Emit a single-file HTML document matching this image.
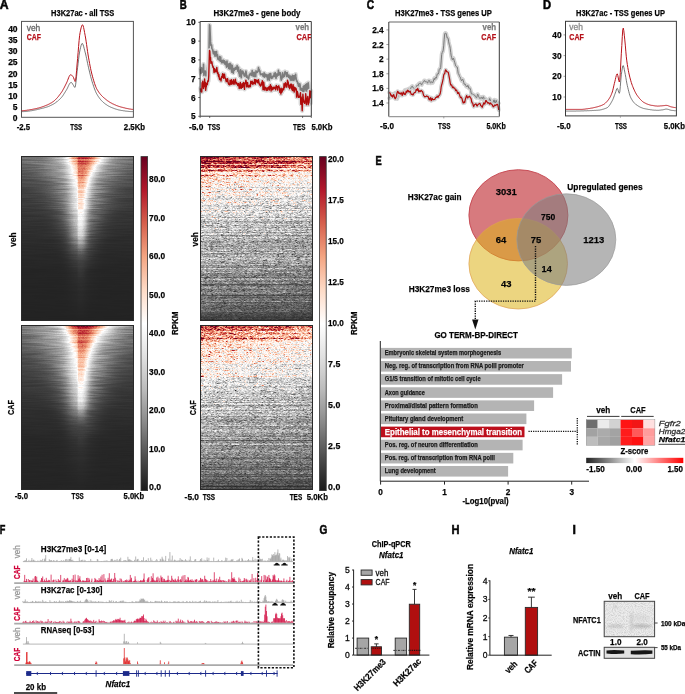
<!DOCTYPE html>
<html><head><meta charset="utf-8"><title>figure</title>
<style>
html,body{margin:0;padding:0;background:#fff;}
#wrap{position:relative;width:685px;height:694px;overflow:hidden;background:#fff;}
#wrap svg{position:absolute;left:0;top:0;}
#wrap canvas{position:absolute;}
#hB1,#hB2{background:linear-gradient(#a01a2a,#e8c8c0 12%,#d8d8d8 25%,#a8a8a8 60%,#808080 90%,#333);}
text{font-family:"Liberation Sans",sans-serif;}
</style></head><body><div id="wrap">
<svg width="685" height="694" style="position:absolute;left:0;top:0"><defs><filter id="fb6" x="-50%" y="-50%" width="200%" height="200%"><feGaussianBlur stdDeviation="7"/></filter><filter id="fb2" x="-50%" y="-50%" width="200%" height="200%"><feGaussianBlur stdDeviation="2.2"/></filter><clipPath id="fbc1"><rect x="21" y="156" width="113" height="165"/></clipPath><clipPath id="fbc2"><rect x="21" y="325" width="113" height="165"/></clipPath></defs><g clip-path="url(#fbc1)"><rect x="21" y="156" width="113" height="165" fill="#262626"/><polygon points="35,156 125,156 84,251" fill="#9a9a9a" filter="url(#fb6)"/><polygon points="64,156 102,156 81,244" fill="#ffffff" filter="url(#fb2)"/><polygon points="77,156 97,156 81,214" fill="#e58a72" filter="url(#fb2)"/></g><g clip-path="url(#fbc2)"><rect x="21" y="325" width="113" height="165" fill="#262626"/><polygon points="35,325 125,325 84,420" fill="#9a9a9a" filter="url(#fb6)"/><polygon points="64,325 102,325 81,413" fill="#ffffff" filter="url(#fb2)"/><polygon points="77,325 97,325 81,383" fill="#e58a72" filter="url(#fb2)"/></g></svg>
<canvas id="hA1" width="113" height="165" style="left:21px;top:156px;width:113px;height:165px"></canvas>
<canvas id="hA2" width="113" height="165" style="left:21px;top:325px;width:113px;height:165px"></canvas>
<canvas id="hB1" width="113" height="165" style="left:200px;top:156px;width:113px;height:165px"></canvas>
<canvas id="hB2" width="113" height="165" style="left:200px;top:325px;width:113px;height:165px"></canvas>
<svg width="685" height="694" viewBox="0 0 685 694" font-family="Liberation Sans, sans-serif">
<text x="-0.30" y="8.80" font-size="12.5" font-weight="bold" stroke="#111" stroke-width="0.25" textLength="8.80" lengthAdjust="spacingAndGlyphs" style="stroke-width:0.6">A</text>
<text x="51.10" y="15.60" font-size="8.82" font-weight="bold" stroke="#111" stroke-width="0.25" textLength="63.20" lengthAdjust="spacingAndGlyphs" >H3K27ac - all TSS</text>
<rect x="21.50" y="21.40" width="111.90" height="95.90" fill="none" stroke="#555" stroke-width="1" />
<text x="17.60" y="121.30" font-size="8.5" font-weight="bold" stroke="#111" stroke-width="0.25" text-anchor="end" >0</text>
<text x="17.60" y="110.11" font-size="8.5" font-weight="bold" stroke="#111" stroke-width="0.25" text-anchor="end" >5</text>
<text x="17.60" y="98.93" font-size="8.5" font-weight="bold" stroke="#111" stroke-width="0.25" text-anchor="end" >10</text>
<text x="17.60" y="87.75" font-size="8.5" font-weight="bold" stroke="#111" stroke-width="0.25" text-anchor="end" >15</text>
<text x="17.60" y="76.56" font-size="8.5" font-weight="bold" stroke="#111" stroke-width="0.25" text-anchor="end" >20</text>
<text x="17.60" y="65.38" font-size="8.5" font-weight="bold" stroke="#111" stroke-width="0.25" text-anchor="end" >25</text>
<text x="17.60" y="54.19" font-size="8.5" font-weight="bold" stroke="#111" stroke-width="0.25" text-anchor="end" >30</text>
<text x="17.60" y="43.00" font-size="8.5" font-weight="bold" stroke="#111" stroke-width="0.25" text-anchor="end" >35</text>
<text x="17.60" y="31.82" font-size="8.5" font-weight="bold" stroke="#111" stroke-width="0.25" text-anchor="end" >40</text>
<text x="16.70" y="129.50" font-size="8.58" font-weight="bold" stroke="#111" stroke-width="0.25" textLength="13.40" lengthAdjust="spacingAndGlyphs" >-2.5</text>
<text x="70.30" y="129.50" font-size="8.58" font-weight="bold" stroke="#111" stroke-width="0.25" textLength="11.80" lengthAdjust="spacingAndGlyphs" >TSS</text>
<text x="123.80" y="129.50" font-size="8.58" font-weight="bold" stroke="#111" stroke-width="0.25" textLength="21.30" lengthAdjust="spacingAndGlyphs" >2.5Kb</text>
<text x="26.70" y="31.00" font-size="8.82" stroke="#666" stroke-width="0.3" fill="#666" textLength="13.60" lengthAdjust="spacingAndGlyphs" >veh</text>
<text x="26.70" y="39.70" font-size="8.58" font-weight="bold" stroke="#b5121b" stroke-width="0.25" fill="#b5121b" textLength="14.20" lengthAdjust="spacingAndGlyphs" >CAF</text>
<path d="M21.6,111.6 22.1,111.6 22.6,111.6 23.1,111.6 23.6,111.6 24.1,111.6 24.6,111.5 25.1,111.5 25.6,111.5 26.1,111.4 26.6,111.4 27.1,111.3 27.6,111.3 28.1,111.2 28.6,111.1 29.1,111.1 29.6,111.0 30.1,110.9 30.6,110.8 31.1,110.8 31.6,110.7 32.1,110.6 32.6,110.5 33.1,110.4 33.6,110.3 34.1,110.2 34.6,110.1 35.1,110.0 35.6,109.9 36.1,109.8 36.6,109.7 37.1,109.5 37.6,109.4 38.1,109.3 38.6,109.2 39.1,109.1 39.6,109.0 40.1,108.8 40.6,108.7 41.1,108.6 41.6,108.5 42.1,108.3 42.6,108.2 43.1,108.1 43.6,108.0 44.1,107.8 44.6,107.7 45.1,107.6 45.6,107.4 46.1,107.3 46.6,107.1 47.1,106.9 47.6,106.8 48.1,106.6 48.6,106.4 49.1,106.2 49.6,106.0 50.1,105.7 50.6,105.5 51.1,105.3 51.6,105.0 52.1,104.8 52.6,104.5 53.1,104.2 53.6,104.0 54.1,103.7 54.6,103.4 55.1,103.0 55.6,102.7 56.1,102.3 56.6,101.9 57.1,101.6 57.6,101.1 58.1,100.7 58.6,100.3 59.1,99.8 59.6,99.4 60.1,98.9 60.6,98.4 61.1,97.8 61.6,97.3 62.1,96.7 62.6,96.0 63.1,95.3 63.6,94.5 64.1,93.7 64.6,92.9 65.1,92.1 65.6,91.3 66.1,90.5 66.6,89.7 67.1,88.8 67.6,87.8 68.1,86.7 68.6,85.6 69.1,84.6 69.6,83.7 70.1,83.0 70.6,82.6 71.1,82.4 71.6,82.6 72.1,83.2 72.6,84.0 73.1,84.8 73.6,85.6 74.1,86.6 74.6,87.3 75.1,87.2 75.6,84.9 76.1,80.9 76.6,76.2 77.1,71.5 77.6,67.5 78.1,63.5 78.6,59.3 79.1,55.4 79.6,52.0 80.1,49.6 80.6,47.4 81.1,45.5 81.6,44.1 82.1,43.4 82.6,43.7 83.1,44.8 83.6,46.3 84.1,48.2 84.6,50.2 85.1,52.1 85.6,54.0 86.1,56.2 86.6,58.5 87.1,60.9 87.6,63.3 88.1,65.7 88.6,67.8 89.1,70.0 89.6,72.1 90.1,74.2 90.6,76.2 91.1,78.1 91.6,79.9 92.1,81.6 92.6,83.2 93.1,84.7 93.6,86.2 94.1,87.7 94.6,89.0 95.1,90.3 95.6,91.6 96.1,92.7 96.6,93.7 97.1,94.5 97.6,95.4 98.1,96.2 98.6,96.9 99.1,97.6 99.6,98.3 100.1,99.0 100.6,99.6 101.1,100.2 101.6,100.7 102.1,101.2 102.6,101.7 103.1,102.2 103.6,102.6 104.1,103.0 104.6,103.4 105.1,103.8 105.6,104.2 106.1,104.5 106.6,104.8 107.1,105.2 107.6,105.5 108.1,105.8 108.6,106.1 109.1,106.3 109.6,106.6 110.1,106.8 110.6,107.1 111.1,107.3 111.6,107.5 112.1,107.7 112.6,107.9 113.1,108.1 113.6,108.3 114.1,108.5 114.6,108.7 115.1,108.9 115.6,109.0 116.1,109.2 116.6,109.3 117.1,109.5 117.6,109.6 118.1,109.8 118.6,109.9 119.1,110.0 119.6,110.1 120.1,110.2 120.6,110.3 121.1,110.4 121.6,110.5 122.1,110.5 122.6,110.6 123.1,110.7 123.6,110.8 124.1,110.8 124.6,110.9 125.1,111.0 125.6,111.1 126.1,111.1 126.6,111.2 127.1,111.2 127.6,111.3 128.1,111.4 128.6,111.4 129.1,111.5 129.6,111.5 130.1,111.5 130.6,111.6 131.1,111.6 131.6,111.6 132.1,111.6 132.6,111.6 133.1,111.6" stroke="#555" stroke-width="0.8" fill="none" stroke-linejoin="round" />
<path d="M21.6,110.8 22.1,110.8 22.6,110.7 23.1,110.7 23.6,110.6 24.1,110.6 24.6,110.5 25.1,110.5 25.6,110.4 26.1,110.4 26.6,110.3 27.1,110.2 27.6,110.1 28.1,110.1 28.6,110.0 29.1,109.9 29.6,109.8 30.1,109.7 30.6,109.6 31.1,109.6 31.6,109.5 32.1,109.4 32.6,109.3 33.1,109.2 33.6,109.1 34.1,109.0 34.6,108.9 35.1,108.8 35.6,108.7 36.1,108.6 36.6,108.5 37.1,108.3 37.6,108.2 38.1,108.1 38.6,108.0 39.1,107.8 39.6,107.7 40.1,107.5 40.6,107.4 41.1,107.2 41.6,107.1 42.1,106.9 42.6,106.7 43.1,106.5 43.6,106.4 44.1,106.2 44.6,106.0 45.1,105.8 45.6,105.6 46.1,105.4 46.6,105.2 47.1,105.0 47.6,104.8 48.1,104.5 48.6,104.3 49.1,104.0 49.6,103.8 50.1,103.5 50.6,103.2 51.1,103.0 51.6,102.7 52.1,102.3 52.6,102.0 53.1,101.7 53.6,101.3 54.1,100.9 54.6,100.5 55.1,100.0 55.6,99.5 56.1,99.0 56.6,98.5 57.1,97.9 57.6,97.4 58.1,96.8 58.6,96.2 59.1,95.5 59.6,94.9 60.1,94.2 60.6,93.5 61.1,92.8 61.6,92.1 62.1,91.4 62.6,90.5 63.1,89.6 63.6,88.7 64.1,87.8 64.6,86.8 65.1,85.8 65.6,84.8 66.1,83.8 66.6,82.8 67.1,81.7 67.6,80.4 68.1,79.1 68.6,77.8 69.1,76.6 69.6,75.7 70.1,75.0 70.6,74.7 71.1,74.8 71.6,75.1 72.1,75.6 72.6,76.2 73.1,76.8 73.6,77.7 74.1,79.2 74.6,80.6 75.1,81.5 75.6,80.4 76.1,76.2 76.6,70.3 77.1,64.0 77.6,58.5 78.1,52.6 78.6,46.4 79.1,40.5 79.6,35.7 80.1,32.6 80.6,30.1 81.1,27.9 81.6,26.2 82.1,25.1 82.6,24.8 83.1,25.7 83.6,27.5 84.1,29.9 84.6,32.6 85.1,35.2 85.6,38.0 86.1,41.2 86.6,44.6 87.1,48.2 87.6,51.7 88.1,55.0 88.6,57.9 89.1,60.7 89.6,63.4 90.1,66.1 90.6,68.6 91.1,70.9 91.6,73.0 92.1,74.9 92.6,76.8 93.1,78.6 93.6,80.3 94.1,82.0 94.6,83.5 95.1,85.0 95.6,86.3 96.1,87.5 96.6,88.6 97.1,89.5 97.6,90.3 98.1,91.1 98.6,91.9 99.1,92.6 99.6,93.3 100.1,93.9 100.6,94.5 101.1,95.0 101.6,95.6 102.1,96.1 102.6,96.6 103.1,97.1 103.6,97.5 104.1,98.0 104.6,98.4 105.1,98.8 105.6,99.2 106.1,99.6 106.6,100.0 107.1,100.4 107.6,100.8 108.1,101.1 108.6,101.4 109.1,101.8 109.6,102.1 110.1,102.4 110.6,102.7 111.1,103.0 111.6,103.2 112.1,103.5 112.6,103.8 113.1,104.0 113.6,104.2 114.1,104.5 114.6,104.7 115.1,104.9 115.6,105.1 116.1,105.4 116.6,105.6 117.1,105.8 117.6,105.9 118.1,106.1 118.6,106.3 119.1,106.5 119.6,106.6 120.1,106.8 120.6,106.9 121.1,107.0 121.6,107.2 122.1,107.3 122.6,107.4 123.1,107.6 123.6,107.7 124.1,107.8 124.6,107.9 125.1,108.1 125.6,108.2 126.1,108.3 126.6,108.4 127.1,108.5 127.6,108.6 128.1,108.7 128.6,108.8 129.1,108.9 129.6,109.0 130.1,109.1 130.6,109.1 131.1,109.2 131.6,109.3 132.1,109.3 132.6,109.4 133.1,109.4" stroke="#b8141c" stroke-width="1.0" fill="none" stroke-linejoin="round" />
<text x="179.80" y="8.80" font-size="12.5" font-weight="bold" stroke="#111" stroke-width="0.25" textLength="7.00" lengthAdjust="spacingAndGlyphs" style="stroke-width:0.6">B</text>
<text x="213.40" y="15.90" font-size="9.16" font-weight="bold" stroke="#111" stroke-width="0.25" textLength="87.10" lengthAdjust="spacingAndGlyphs" >H3K27me3 - gene body</text>
<text x="195.60" y="119.30" font-size="8.3" font-weight="bold" stroke="#111" stroke-width="0.25" text-anchor="end" >5</text>
<line x1="198.30" y1="116.30" x2="200.10" y2="116.30" stroke="#3a3a3a" stroke-width="0.8" />
<text x="195.60" y="100.50" font-size="8.3" font-weight="bold" stroke="#111" stroke-width="0.25" text-anchor="end" >6</text>
<line x1="198.30" y1="97.50" x2="200.10" y2="97.50" stroke="#3a3a3a" stroke-width="0.8" />
<text x="195.60" y="81.70" font-size="8.3" font-weight="bold" stroke="#111" stroke-width="0.25" text-anchor="end" >7</text>
<line x1="198.30" y1="78.70" x2="200.10" y2="78.70" stroke="#3a3a3a" stroke-width="0.8" />
<text x="195.60" y="62.90" font-size="8.3" font-weight="bold" stroke="#111" stroke-width="0.25" text-anchor="end" >8</text>
<line x1="198.30" y1="59.90" x2="200.10" y2="59.90" stroke="#3a3a3a" stroke-width="0.8" />
<text x="195.60" y="44.10" font-size="8.3" font-weight="bold" stroke="#111" stroke-width="0.25" text-anchor="end" >9</text>
<line x1="198.30" y1="41.10" x2="200.10" y2="41.10" stroke="#3a3a3a" stroke-width="0.8" />
<text x="195.60" y="25.30" font-size="8.3" font-weight="bold" stroke="#111" stroke-width="0.25" text-anchor="end" >10</text>
<line x1="198.30" y1="22.30" x2="200.10" y2="22.30" stroke="#3a3a3a" stroke-width="0.8" />
<path d="M200.4,68.9 200.8,73.5 201.1,73.3 201.4,67.7 201.8,68.5 202.1,68.1 202.5,71.9 202.8,70.1 203.2,72.4 203.5,64.3 203.9,75.5 204.2,70.8 204.6,73.5 204.9,71.4 205.3,71.1 205.6,74.4 206.0,75.9 206.3,72.6 206.7,72.7 207.0,75.0 207.4,69.3 207.7,66.5 208.1,72.0 208.4,66.9 208.8,57.8 209.1,46.3 209.5,24.9 209.8,25.8 210.2,34.0 210.5,41.4 210.9,45.4 211.2,44.8 211.6,45.0 211.9,48.4 212.3,50.2 212.6,49.3 213.0,51.9 213.3,53.7 213.7,52.0 214.0,51.4 214.4,54.2 214.7,54.5 215.1,56.3 215.4,51.9 215.8,53.1 216.1,52.9 216.5,51.5 216.8,55.5 217.2,56.7 217.5,54.7 217.9,59.3 218.2,58.8 218.6,58.9 218.9,59.0 219.3,60.4 219.6,56.6 220.0,60.7 220.3,61.1 220.7,57.0 221.0,61.3 221.4,60.7 221.7,62.8 222.1,60.7 222.4,61.5 222.8,62.3 223.1,60.0 223.5,62.8 223.8,61.6 224.2,62.6 224.5,60.9 224.9,64.1 225.2,63.4 225.6,62.1 225.9,64.0 226.3,65.8 226.6,67.1 227.0,61.1 227.3,66.2 227.7,66.1 228.0,65.3 228.4,64.0 228.7,68.5 229.1,64.0 229.4,67.6 229.8,69.0 230.1,63.4 230.5,65.8 230.8,64.3 231.2,67.7 231.5,70.9 231.9,72.2 232.2,65.2 232.6,67.9 232.9,71.1 233.3,73.1 233.6,70.9 234.0,68.5 234.3,70.3 234.7,69.5 235.0,68.8 235.4,67.4 235.7,69.3 236.1,69.0 236.4,68.0 236.8,67.6 237.1,65.6 237.5,67.5 237.8,71.3 238.2,69.1 238.5,67.3 238.9,73.3 239.2,72.7 239.6,76.1 239.9,72.4 240.3,71.4 240.6,69.7 241.0,75.4 241.3,77.8 241.7,71.2 242.0,71.3 242.4,73.7 242.7,71.0 243.1,72.1 243.4,72.2 243.8,73.6 244.1,75.7 244.5,74.1 244.8,76.1 245.2,74.0 245.5,75.6 245.9,71.1 246.2,72.8 246.6,77.5 246.9,75.3 247.3,77.7 247.6,77.9 248.0,79.4 248.3,78.5 248.7,78.6 249.0,76.2 249.4,74.7 249.7,74.4 250.1,74.6 250.4,73.2 250.8,74.1 251.1,74.9 251.5,75.4 251.8,73.9 252.2,70.6 252.5,74.0 252.9,74.7 253.2,76.3 253.6,75.1 253.9,72.5 254.3,72.3 254.6,77.5 255.0,75.0 255.3,76.8 255.7,76.9 256.0,70.8 256.4,72.6 256.7,72.5 257.1,72.4 257.4,72.1 257.8,71.2 258.1,70.9 258.5,67.6 258.8,70.3 259.2,69.5 259.5,71.6 259.9,71.0 260.2,73.6 260.6,74.6 260.9,74.1 261.3,74.5 261.6,74.5 262.0,73.8 262.3,74.6 262.7,74.2 263.0,76.1 263.4,75.6 263.7,76.5 264.1,72.9 264.4,77.1 264.8,74.0 265.1,74.0 265.5,75.3 265.8,74.9 266.2,76.8 266.5,75.4 266.9,74.7 267.2,75.5 267.6,79.9 267.9,77.5 268.3,75.1 268.6,77.1 269.0,74.2 269.3,80.3 269.7,73.9 270.0,77.5 270.4,77.5 270.7,73.6 271.1,77.0 271.4,78.4 271.8,77.4 272.1,76.9 272.5,78.0 272.8,76.3 273.2,76.4 273.5,75.3 273.9,76.5 274.2,73.4 274.6,76.5 274.9,74.0 275.3,72.8 275.6,75.7 276.0,78.4 276.3,76.9 276.7,74.0 277.0,76.3 277.4,74.1 277.7,74.7 278.1,75.0 278.4,70.4 278.8,75.2 279.1,73.2 279.5,73.9 279.8,72.6 280.2,72.8 280.5,74.4 280.9,78.4 281.2,80.2 281.6,77.1 281.9,79.0 282.3,76.2 282.6,72.8 283.0,76.6 283.3,77.1 283.7,75.2 284.0,76.3 284.4,76.5 284.7,73.2 285.1,71.6 285.4,73.6 285.8,73.3 286.1,72.8 286.5,75.2 286.8,76.5 287.2,72.5 287.5,74.9 287.9,75.9 288.2,76.0 288.6,77.2 288.9,75.1 289.3,77.9 289.6,80.8 290.0,78.7 290.3,76.0 290.7,78.4 291.0,79.9 291.4,78.1 291.7,76.5 292.1,80.5 292.4,75.4 292.8,78.8 293.1,77.9 293.5,75.8 293.8,80.5 294.2,78.7 294.5,75.7 294.9,79.0 295.2,76.9 295.6,74.2 295.9,76.9 296.3,79.5 296.6,81.0 297.0,80.9 297.3,81.6 297.7,83.2 298.0,82.8 298.4,86.2 298.7,84.9 299.1,85.6 299.4,86.4 299.8,83.7 300.1,85.1 300.5,93.1 300.8,89.9 301.2,88.3 301.5,90.8 301.9,88.8 302.2,91.6 302.6,89.1 302.9,92.1 303.3,86.6 303.6,95.9 304.0,89.6 304.3,85.5 304.7,89.4 305.0,88.5 305.4,89.3 305.7,84.6 306.1,89.6 306.4,99.8 306.8,83.8 307.1,88.6 307.5,87.0 307.8,88.9 308.2,82.8 308.5,85.7 308.9,91.8 309.2,91.3 309.6,97.2 309.9,90.2 310.3,93.9 310.6,103.3 311.0,91.7" stroke="#d9d9d9" stroke-width="4.4" fill="none" stroke-linejoin="round" stroke-linecap="round"/>
<path d="M200.4,68.9 200.8,73.5 201.1,73.3 201.4,67.7 201.8,68.5 202.1,68.1 202.5,71.9 202.8,70.1 203.2,72.4 203.5,64.3 203.9,75.5 204.2,70.8 204.6,73.5 204.9,71.4 205.3,71.1 205.6,74.4 206.0,75.9 206.3,72.6 206.7,72.7 207.0,75.0 207.4,69.3 207.7,66.5 208.1,72.0 208.4,66.9 208.8,57.8 209.1,46.3 209.5,24.9 209.8,25.8 210.2,34.0 210.5,41.4 210.9,45.4 211.2,44.8 211.6,45.0 211.9,48.4 212.3,50.2 212.6,49.3 213.0,51.9 213.3,53.7 213.7,52.0 214.0,51.4 214.4,54.2 214.7,54.5 215.1,56.3 215.4,51.9 215.8,53.1 216.1,52.9 216.5,51.5 216.8,55.5 217.2,56.7 217.5,54.7 217.9,59.3 218.2,58.8 218.6,58.9 218.9,59.0 219.3,60.4 219.6,56.6 220.0,60.7 220.3,61.1 220.7,57.0 221.0,61.3 221.4,60.7 221.7,62.8 222.1,60.7 222.4,61.5 222.8,62.3 223.1,60.0 223.5,62.8 223.8,61.6 224.2,62.6 224.5,60.9 224.9,64.1 225.2,63.4 225.6,62.1 225.9,64.0 226.3,65.8 226.6,67.1 227.0,61.1 227.3,66.2 227.7,66.1 228.0,65.3 228.4,64.0 228.7,68.5 229.1,64.0 229.4,67.6 229.8,69.0 230.1,63.4 230.5,65.8 230.8,64.3 231.2,67.7 231.5,70.9 231.9,72.2 232.2,65.2 232.6,67.9 232.9,71.1 233.3,73.1 233.6,70.9 234.0,68.5 234.3,70.3 234.7,69.5 235.0,68.8 235.4,67.4 235.7,69.3 236.1,69.0 236.4,68.0 236.8,67.6 237.1,65.6 237.5,67.5 237.8,71.3 238.2,69.1 238.5,67.3 238.9,73.3 239.2,72.7 239.6,76.1 239.9,72.4 240.3,71.4 240.6,69.7 241.0,75.4 241.3,77.8 241.7,71.2 242.0,71.3 242.4,73.7 242.7,71.0 243.1,72.1 243.4,72.2 243.8,73.6 244.1,75.7 244.5,74.1 244.8,76.1 245.2,74.0 245.5,75.6 245.9,71.1 246.2,72.8 246.6,77.5 246.9,75.3 247.3,77.7 247.6,77.9 248.0,79.4 248.3,78.5 248.7,78.6 249.0,76.2 249.4,74.7 249.7,74.4 250.1,74.6 250.4,73.2 250.8,74.1 251.1,74.9 251.5,75.4 251.8,73.9 252.2,70.6 252.5,74.0 252.9,74.7 253.2,76.3 253.6,75.1 253.9,72.5 254.3,72.3 254.6,77.5 255.0,75.0 255.3,76.8 255.7,76.9 256.0,70.8 256.4,72.6 256.7,72.5 257.1,72.4 257.4,72.1 257.8,71.2 258.1,70.9 258.5,67.6 258.8,70.3 259.2,69.5 259.5,71.6 259.9,71.0 260.2,73.6 260.6,74.6 260.9,74.1 261.3,74.5 261.6,74.5 262.0,73.8 262.3,74.6 262.7,74.2 263.0,76.1 263.4,75.6 263.7,76.5 264.1,72.9 264.4,77.1 264.8,74.0 265.1,74.0 265.5,75.3 265.8,74.9 266.2,76.8 266.5,75.4 266.9,74.7 267.2,75.5 267.6,79.9 267.9,77.5 268.3,75.1 268.6,77.1 269.0,74.2 269.3,80.3 269.7,73.9 270.0,77.5 270.4,77.5 270.7,73.6 271.1,77.0 271.4,78.4 271.8,77.4 272.1,76.9 272.5,78.0 272.8,76.3 273.2,76.4 273.5,75.3 273.9,76.5 274.2,73.4 274.6,76.5 274.9,74.0 275.3,72.8 275.6,75.7 276.0,78.4 276.3,76.9 276.7,74.0 277.0,76.3 277.4,74.1 277.7,74.7 278.1,75.0 278.4,70.4 278.8,75.2 279.1,73.2 279.5,73.9 279.8,72.6 280.2,72.8 280.5,74.4 280.9,78.4 281.2,80.2 281.6,77.1 281.9,79.0 282.3,76.2 282.6,72.8 283.0,76.6 283.3,77.1 283.7,75.2 284.0,76.3 284.4,76.5 284.7,73.2 285.1,71.6 285.4,73.6 285.8,73.3 286.1,72.8 286.5,75.2 286.8,76.5 287.2,72.5 287.5,74.9 287.9,75.9 288.2,76.0 288.6,77.2 288.9,75.1 289.3,77.9 289.6,80.8 290.0,78.7 290.3,76.0 290.7,78.4 291.0,79.9 291.4,78.1 291.7,76.5 292.1,80.5 292.4,75.4 292.8,78.8 293.1,77.9 293.5,75.8 293.8,80.5 294.2,78.7 294.5,75.7 294.9,79.0 295.2,76.9 295.6,74.2 295.9,76.9 296.3,79.5 296.6,81.0 297.0,80.9 297.3,81.6 297.7,83.2 298.0,82.8 298.4,86.2 298.7,84.9 299.1,85.6 299.4,86.4 299.8,83.7 300.1,85.1 300.5,93.1 300.8,89.9 301.2,88.3 301.5,90.8 301.9,88.8 302.2,91.6 302.6,89.1 302.9,92.1 303.3,86.6 303.6,95.9 304.0,89.6 304.3,85.5 304.7,89.4 305.0,88.5 305.4,89.3 305.7,84.6 306.1,89.6 306.4,99.8 306.8,83.8 307.1,88.6 307.5,87.0 307.8,88.9 308.2,82.8 308.5,85.7 308.9,91.8 309.2,91.3 309.6,97.2 309.9,90.2 310.3,93.9 310.6,103.3 311.0,91.7" stroke="#7c7c7c" stroke-width="1.6" fill="none" stroke-linejoin="round" />
<path d="M200.4,88.3 200.8,91.6 201.1,90.4 201.4,90.1 201.8,92.1 202.1,82.6 202.5,83.6 202.8,81.2 203.2,85.0 203.5,88.5 203.9,85.4 204.2,86.5 204.6,79.0 204.9,85.2 205.3,82.2 205.6,90.3 206.0,87.3 206.3,86.7 206.7,83.1 207.0,84.7 207.4,84.5 207.7,81.1 208.1,80.7 208.4,81.2 208.8,75.6 209.1,64.5 209.5,50.5 209.8,51.1 210.2,58.2 210.5,57.4 210.9,63.2 211.2,61.7 211.6,62.5 211.9,61.9 212.3,65.0 212.6,65.7 213.0,67.3 213.3,66.8 213.7,68.7 214.0,72.5 214.4,70.3 214.7,68.8 215.1,71.8 215.4,70.0 215.8,71.5 216.1,71.7 216.5,69.9 216.8,67.4 217.2,71.0 217.5,73.4 217.9,72.5 218.2,74.8 218.6,76.5 218.9,74.4 219.3,78.3 219.6,79.5 220.0,78.8 220.3,79.0 220.7,79.0 221.0,81.0 221.4,77.0 221.7,76.5 222.1,77.5 222.4,74.7 222.8,73.6 223.1,75.2 223.5,77.9 223.8,78.3 224.2,74.7 224.5,74.2 224.9,77.4 225.2,77.9 225.6,78.5 225.9,80.3 226.3,81.7 226.6,80.3 227.0,81.3 227.3,78.6 227.7,79.0 228.0,82.2 228.4,83.6 228.7,84.2 229.1,84.3 229.4,84.9 229.8,84.9 230.1,80.1 230.5,81.9 230.8,84.0 231.2,83.9 231.5,79.8 231.9,84.3 232.2,81.3 232.6,81.5 232.9,82.5 233.3,83.4 233.6,79.7 234.0,84.4 234.3,83.1 234.7,81.7 235.0,82.6 235.4,79.3 235.7,82.3 236.1,84.0 236.4,82.4 236.8,83.0 237.1,83.4 237.5,83.8 237.8,85.6 238.2,83.8 238.5,83.5 238.9,85.4 239.2,88.5 239.6,84.3 239.9,85.9 240.3,82.4 240.6,88.0 241.0,87.1 241.3,88.3 241.7,85.7 242.0,83.8 242.4,87.4 242.7,87.1 243.1,83.8 243.4,82.5 243.8,85.8 244.1,84.7 244.5,89.4 244.8,83.1 245.2,82.7 245.5,83.2 245.9,80.2 246.2,81.9 246.6,86.9 246.9,84.0 247.3,83.3 247.6,82.6 248.0,86.5 248.3,87.1 248.7,86.6 249.0,85.6 249.4,86.9 249.7,86.9 250.1,84.7 250.4,86.6 250.8,81.1 251.1,82.0 251.5,83.5 251.8,83.4 252.2,81.1 252.5,83.5 252.9,84.6 253.2,83.2 253.6,82.5 253.9,83.4 254.3,82.4 254.6,79.4 255.0,81.3 255.3,84.1 255.7,79.8 256.0,82.0 256.4,81.3 256.7,80.3 257.1,80.2 257.4,82.4 257.8,82.9 258.1,82.9 258.5,79.7 258.8,82.0 259.2,83.5 259.5,84.9 259.9,84.7 260.2,85.3 260.6,86.1 260.9,85.7 261.3,82.9 261.6,84.7 262.0,83.5 262.3,80.6 262.7,82.4 263.0,89.7 263.4,84.1 263.7,82.2 264.1,85.7 264.4,90.0 264.8,87.5 265.1,88.4 265.5,87.3 265.8,87.9 266.2,90.5 266.5,89.7 266.9,88.1 267.2,89.9 267.6,90.2 267.9,87.7 268.3,88.5 268.6,88.4 269.0,86.7 269.3,90.0 269.7,87.6 270.0,86.6 270.4,84.6 270.7,85.7 271.1,91.0 271.4,86.4 271.8,89.3 272.1,88.0 272.5,89.7 272.8,89.8 273.2,87.1 273.5,87.8 273.9,88.4 274.2,88.2 274.6,87.7 274.9,87.1 275.3,88.7 275.6,89.8 276.0,88.1 276.3,85.4 276.7,87.3 277.0,86.7 277.4,87.5 277.7,90.1 278.1,86.5 278.4,86.9 278.8,85.8 279.1,87.4 279.5,87.7 279.8,92.3 280.2,90.5 280.5,89.3 280.9,94.0 281.2,88.2 281.6,92.0 281.9,92.2 282.3,91.0 282.6,89.0 283.0,88.9 283.3,88.2 283.7,89.8 284.0,83.7 284.4,86.6 284.7,87.5 285.1,85.6 285.4,82.8 285.8,85.2 286.1,84.0 286.5,86.5 286.8,87.2 287.2,84.2 287.5,80.1 287.9,83.1 288.2,82.0 288.6,85.2 288.9,87.3 289.3,85.2 289.6,88.7 290.0,88.1 290.3,86.8 290.7,84.2 291.0,86.4 291.4,84.1 291.7,89.1 292.1,88.0 292.4,90.5 292.8,88.5 293.1,84.6 293.5,89.6 293.8,90.6 294.2,92.0 294.5,87.3 294.9,87.6 295.2,89.9 295.6,88.3 295.9,88.2 296.3,89.6 296.6,97.1 297.0,91.8 297.3,91.4 297.7,93.0 298.0,94.5 298.4,97.4 298.7,97.2 299.1,97.2 299.4,96.2 299.8,96.7 300.1,94.9 300.5,92.8 300.8,104.2 301.2,97.0 301.5,101.7 301.9,103.9 302.2,110.7 302.6,101.3 302.9,94.2 303.3,98.4 303.6,100.4 304.0,102.2 304.3,101.6 304.7,103.4 305.0,101.3 305.4,100.0 305.7,93.7 306.1,98.2 306.4,104.8 306.8,100.2 307.1,101.7 307.5,98.1 307.8,96.5 308.2,104.8 308.5,99.7 308.9,102.9 309.2,99.8 309.6,96.7 309.9,90.6 310.3,97.8 310.6,92.9 311.0,90.8" stroke="#d9d9d9" stroke-width="4.4" fill="none" stroke-linejoin="round" stroke-linecap="round"/>
<path d="M200.4,88.3 200.8,91.6 201.1,90.4 201.4,90.1 201.8,92.1 202.1,82.6 202.5,83.6 202.8,81.2 203.2,85.0 203.5,88.5 203.9,85.4 204.2,86.5 204.6,79.0 204.9,85.2 205.3,82.2 205.6,90.3 206.0,87.3 206.3,86.7 206.7,83.1 207.0,84.7 207.4,84.5 207.7,81.1 208.1,80.7 208.4,81.2 208.8,75.6 209.1,64.5 209.5,50.5 209.8,51.1 210.2,58.2 210.5,57.4 210.9,63.2 211.2,61.7 211.6,62.5 211.9,61.9 212.3,65.0 212.6,65.7 213.0,67.3 213.3,66.8 213.7,68.7 214.0,72.5 214.4,70.3 214.7,68.8 215.1,71.8 215.4,70.0 215.8,71.5 216.1,71.7 216.5,69.9 216.8,67.4 217.2,71.0 217.5,73.4 217.9,72.5 218.2,74.8 218.6,76.5 218.9,74.4 219.3,78.3 219.6,79.5 220.0,78.8 220.3,79.0 220.7,79.0 221.0,81.0 221.4,77.0 221.7,76.5 222.1,77.5 222.4,74.7 222.8,73.6 223.1,75.2 223.5,77.9 223.8,78.3 224.2,74.7 224.5,74.2 224.9,77.4 225.2,77.9 225.6,78.5 225.9,80.3 226.3,81.7 226.6,80.3 227.0,81.3 227.3,78.6 227.7,79.0 228.0,82.2 228.4,83.6 228.7,84.2 229.1,84.3 229.4,84.9 229.8,84.9 230.1,80.1 230.5,81.9 230.8,84.0 231.2,83.9 231.5,79.8 231.9,84.3 232.2,81.3 232.6,81.5 232.9,82.5 233.3,83.4 233.6,79.7 234.0,84.4 234.3,83.1 234.7,81.7 235.0,82.6 235.4,79.3 235.7,82.3 236.1,84.0 236.4,82.4 236.8,83.0 237.1,83.4 237.5,83.8 237.8,85.6 238.2,83.8 238.5,83.5 238.9,85.4 239.2,88.5 239.6,84.3 239.9,85.9 240.3,82.4 240.6,88.0 241.0,87.1 241.3,88.3 241.7,85.7 242.0,83.8 242.4,87.4 242.7,87.1 243.1,83.8 243.4,82.5 243.8,85.8 244.1,84.7 244.5,89.4 244.8,83.1 245.2,82.7 245.5,83.2 245.9,80.2 246.2,81.9 246.6,86.9 246.9,84.0 247.3,83.3 247.6,82.6 248.0,86.5 248.3,87.1 248.7,86.6 249.0,85.6 249.4,86.9 249.7,86.9 250.1,84.7 250.4,86.6 250.8,81.1 251.1,82.0 251.5,83.5 251.8,83.4 252.2,81.1 252.5,83.5 252.9,84.6 253.2,83.2 253.6,82.5 253.9,83.4 254.3,82.4 254.6,79.4 255.0,81.3 255.3,84.1 255.7,79.8 256.0,82.0 256.4,81.3 256.7,80.3 257.1,80.2 257.4,82.4 257.8,82.9 258.1,82.9 258.5,79.7 258.8,82.0 259.2,83.5 259.5,84.9 259.9,84.7 260.2,85.3 260.6,86.1 260.9,85.7 261.3,82.9 261.6,84.7 262.0,83.5 262.3,80.6 262.7,82.4 263.0,89.7 263.4,84.1 263.7,82.2 264.1,85.7 264.4,90.0 264.8,87.5 265.1,88.4 265.5,87.3 265.8,87.9 266.2,90.5 266.5,89.7 266.9,88.1 267.2,89.9 267.6,90.2 267.9,87.7 268.3,88.5 268.6,88.4 269.0,86.7 269.3,90.0 269.7,87.6 270.0,86.6 270.4,84.6 270.7,85.7 271.1,91.0 271.4,86.4 271.8,89.3 272.1,88.0 272.5,89.7 272.8,89.8 273.2,87.1 273.5,87.8 273.9,88.4 274.2,88.2 274.6,87.7 274.9,87.1 275.3,88.7 275.6,89.8 276.0,88.1 276.3,85.4 276.7,87.3 277.0,86.7 277.4,87.5 277.7,90.1 278.1,86.5 278.4,86.9 278.8,85.8 279.1,87.4 279.5,87.7 279.8,92.3 280.2,90.5 280.5,89.3 280.9,94.0 281.2,88.2 281.6,92.0 281.9,92.2 282.3,91.0 282.6,89.0 283.0,88.9 283.3,88.2 283.7,89.8 284.0,83.7 284.4,86.6 284.7,87.5 285.1,85.6 285.4,82.8 285.8,85.2 286.1,84.0 286.5,86.5 286.8,87.2 287.2,84.2 287.5,80.1 287.9,83.1 288.2,82.0 288.6,85.2 288.9,87.3 289.3,85.2 289.6,88.7 290.0,88.1 290.3,86.8 290.7,84.2 291.0,86.4 291.4,84.1 291.7,89.1 292.1,88.0 292.4,90.5 292.8,88.5 293.1,84.6 293.5,89.6 293.8,90.6 294.2,92.0 294.5,87.3 294.9,87.6 295.2,89.9 295.6,88.3 295.9,88.2 296.3,89.6 296.6,97.1 297.0,91.8 297.3,91.4 297.7,93.0 298.0,94.5 298.4,97.4 298.7,97.2 299.1,97.2 299.4,96.2 299.8,96.7 300.1,94.9 300.5,92.8 300.8,104.2 301.2,97.0 301.5,101.7 301.9,103.9 302.2,110.7 302.6,101.3 302.9,94.2 303.3,98.4 303.6,100.4 304.0,102.2 304.3,101.6 304.7,103.4 305.0,101.3 305.4,100.0 305.7,93.7 306.1,98.2 306.4,104.8 306.8,100.2 307.1,101.7 307.5,98.1 307.8,96.5 308.2,104.8 308.5,99.7 308.9,102.9 309.2,99.8 309.6,96.7 309.9,90.6 310.3,97.8 310.6,92.9 311.0,90.8" stroke="#b00c0c" stroke-width="1.4" fill="none" stroke-linejoin="round" />
<line x1="200.10" y1="21.50" x2="311.30" y2="21.50" stroke="#3a3a3a" stroke-width="1" />
<line x1="311.30" y1="21.50" x2="311.30" y2="116.20" stroke="#3a3a3a" stroke-width="1" />
<line x1="200.10" y1="21.50" x2="200.10" y2="116.20" stroke="#3a3a3a" stroke-width="1" />
<line x1="200.10" y1="116.20" x2="311.30" y2="116.20" stroke="#3a3a3a" stroke-width="1" />
<line x1="200.10" y1="116.20" x2="200.10" y2="117.90" stroke="#3a3a3a" stroke-width="0.8" />
<line x1="209.70" y1="116.20" x2="209.70" y2="117.90" stroke="#3a3a3a" stroke-width="0.8" />
<line x1="302.60" y1="116.20" x2="302.60" y2="117.90" stroke="#3a3a3a" stroke-width="0.8" />
<line x1="311.30" y1="116.20" x2="311.30" y2="117.90" stroke="#3a3a3a" stroke-width="0.8" />
<text x="188.90" y="129.50" font-size="8.82" font-weight="bold" stroke="#111" stroke-width="0.25" textLength="14.40" lengthAdjust="spacingAndGlyphs" >-5.0</text>
<text x="207.80" y="129.50" font-size="8.82" font-weight="bold" stroke="#111" stroke-width="0.25" textLength="12.40" lengthAdjust="spacingAndGlyphs" >TSS</text>
<text x="293.10" y="129.50" font-size="8.82" font-weight="bold" stroke="#111" stroke-width="0.25" textLength="12.30" lengthAdjust="spacingAndGlyphs" >TES</text>
<text x="311.40" y="129.50" font-size="8.82" font-weight="bold" stroke="#111" stroke-width="0.25" textLength="21.10" lengthAdjust="spacingAndGlyphs" >5.0Kb</text>
<clipPath id="cpB"><rect x="200" y="20" width="111" height="30"/></clipPath>
<text x="309.10" y="30.10" font-size="8.82" font-weight="bold" stroke="#7a7a7a" stroke-width="0.25" fill="#7a7a7a" text-anchor="end" textLength="13.60" lengthAdjust="spacingAndGlyphs" >veh</text>
<text x="296.50" y="40.00" font-size="8.82" font-weight="bold" stroke="#b5121b" stroke-width="0.25" fill="#b5121b" textLength="15.20" lengthAdjust="spacingAndGlyphs" clip-path="url(#cpB)">CAF</text>
<text x="366.80" y="8.80" font-size="12.5" font-weight="bold" stroke="#111" stroke-width="0.25" textLength="7.30" lengthAdjust="spacingAndGlyphs" style="stroke-width:0.6">C</text>
<text x="395.00" y="15.80" font-size="8.82" font-weight="bold" stroke="#111" stroke-width="0.25" textLength="96.90" lengthAdjust="spacingAndGlyphs" >H3K27me3 - TSS genes UP</text>
<text x="383.70" y="32.90" font-size="8.3" font-weight="bold" stroke="#111" stroke-width="0.25" text-anchor="end" >2.4</text>
<line x1="386.40" y1="29.90" x2="388.80" y2="29.90" stroke="#888" stroke-width="0.8" />
<text x="383.70" y="47.52" font-size="8.3" font-weight="bold" stroke="#111" stroke-width="0.25" text-anchor="end" >2.2</text>
<line x1="386.40" y1="44.52" x2="388.80" y2="44.52" stroke="#888" stroke-width="0.8" />
<text x="383.70" y="62.14" font-size="8.3" font-weight="bold" stroke="#111" stroke-width="0.25" text-anchor="end" >2</text>
<line x1="386.40" y1="59.14" x2="388.80" y2="59.14" stroke="#888" stroke-width="0.8" />
<text x="383.70" y="76.76" font-size="8.3" font-weight="bold" stroke="#111" stroke-width="0.25" text-anchor="end" >1.8</text>
<line x1="386.40" y1="73.76" x2="388.80" y2="73.76" stroke="#888" stroke-width="0.8" />
<text x="383.70" y="91.38" font-size="8.3" font-weight="bold" stroke="#111" stroke-width="0.25" text-anchor="end" >1.6</text>
<line x1="386.40" y1="88.38" x2="388.80" y2="88.38" stroke="#888" stroke-width="0.8" />
<text x="383.70" y="106.00" font-size="8.3" font-weight="bold" stroke="#111" stroke-width="0.25" text-anchor="end" >1.4</text>
<line x1="386.40" y1="103.00" x2="388.80" y2="103.00" stroke="#888" stroke-width="0.8" />
<path d="M389.2,98.2 389.7,97.8 390.2,96.1 390.7,97.5 391.2,96.6 391.7,94.6 392.2,93.9 392.7,93.9 393.2,95.4 393.7,97.0 394.2,97.1 394.7,95.6 395.2,92.7 395.7,93.1 396.2,96.8 396.7,98.4 397.2,98.9 397.7,97.0 398.2,94.7 398.7,95.8 399.2,95.7 399.7,94.1 400.2,92.7 400.7,92.9 401.2,93.6 401.7,94.3 402.2,94.4 402.7,94.4 403.2,92.7 403.7,92.6 404.2,92.2 404.7,90.2 405.2,89.9 405.7,91.9 406.2,91.9 406.7,90.8 407.2,90.2 407.7,89.2 408.2,89.1 408.7,88.7 409.2,89.5 409.7,90.0 410.2,89.2 410.7,88.8 411.2,87.2 411.7,86.5 412.2,86.1 412.7,87.2 413.2,87.9 413.7,87.8 414.2,88.5 414.7,90.4 415.2,89.9 415.7,87.8 416.2,87.6 416.7,85.6 417.2,85.3 417.7,86.1 418.2,85.5 418.7,83.8 419.2,83.4 419.7,83.7 420.2,82.9 420.7,83.1 421.2,84.6 421.7,84.9 422.2,83.6 422.7,82.8 423.2,82.2 423.7,81.4 424.2,80.6 424.7,80.6 425.2,81.9 425.7,81.7 426.2,81.4 426.7,81.9 427.2,82.8 427.7,83.1 428.2,81.3 428.7,80.4 429.2,80.5 429.7,80.7 430.2,82.6 430.7,83.2 431.2,82.3 431.7,81.6 432.2,82.4 432.7,82.8 433.2,81.8 433.7,79.6 434.2,78.4 434.7,79.7 435.2,78.6 435.7,77.5 436.2,78.2 436.7,76.7 437.2,74.1 437.7,73.9 438.2,74.0 438.7,72.9 439.2,69.6 439.7,68.8 440.2,69.0 440.7,67.4 441.2,60.9 441.7,54.5 442.2,52.4 442.7,52.0 443.2,50.1 443.7,45.9 444.2,39.2 444.7,34.0 445.2,33.1 445.7,33.1 446.2,33.6 446.7,35.9 447.2,38.1 447.7,37.8 448.2,38.7 448.7,41.9 449.2,44.3 449.7,45.7 450.2,48.2 450.7,52.3 451.2,55.9 451.7,57.7 452.2,59.4 452.7,59.9 453.2,58.0 453.7,58.7 454.2,60.9 454.7,62.3 455.2,64.1 455.7,65.9 456.2,66.3 456.7,66.9 457.2,67.0 457.7,69.8 458.2,73.4 458.7,73.9 459.2,75.3 459.7,76.6 460.2,77.1 460.7,78.7 461.2,80.1 461.7,80.8 462.2,79.8 462.7,79.2 463.2,80.3 463.7,82.4 464.2,84.2 464.7,84.2 465.2,84.1 465.7,85.3 466.2,86.5 466.7,86.4 467.2,86.9 467.7,85.3 468.2,85.8 468.7,88.1 469.2,88.4 469.7,87.8 470.2,88.8 470.7,90.5 471.2,93.2 471.7,94.1 472.2,93.7 472.7,94.3 473.2,94.4 473.7,94.8 474.2,95.0 474.7,95.1 475.2,96.2 475.7,97.0 476.2,97.6 476.7,97.7 477.2,95.8 477.7,94.2 478.2,95.2 478.7,96.7 479.2,97.5 479.7,98.4 480.2,98.6 480.7,97.8 481.2,97.1 481.7,97.3 482.2,98.9 482.7,98.1 483.2,96.7 483.7,97.0 484.2,99.3 484.7,102.0 485.2,101.1 485.7,98.8 486.2,99.9 486.7,101.6 487.2,102.5 487.7,102.0 488.2,101.3 488.7,101.6 489.2,100.1 489.7,98.5 490.2,99.6 490.7,101.6 491.2,103.9 491.7,104.0 492.2,102.3 492.7,102.6 493.2,102.3 493.7,100.2 494.2,99.9 494.7,102.3 495.2,103.3 495.7,101.7 496.2,100.3 496.7,102.4 497.2,103.3 497.7,103.3 498.2,103.6 498.7,103.2" stroke="#d2d2d2" stroke-width="4.0" fill="none" stroke-linejoin="round" stroke-linecap="round"/>
<path d="M389.2,98.2 389.7,97.8 390.2,96.1 390.7,97.5 391.2,96.6 391.7,94.6 392.2,93.9 392.7,93.9 393.2,95.4 393.7,97.0 394.2,97.1 394.7,95.6 395.2,92.7 395.7,93.1 396.2,96.8 396.7,98.4 397.2,98.9 397.7,97.0 398.2,94.7 398.7,95.8 399.2,95.7 399.7,94.1 400.2,92.7 400.7,92.9 401.2,93.6 401.7,94.3 402.2,94.4 402.7,94.4 403.2,92.7 403.7,92.6 404.2,92.2 404.7,90.2 405.2,89.9 405.7,91.9 406.2,91.9 406.7,90.8 407.2,90.2 407.7,89.2 408.2,89.1 408.7,88.7 409.2,89.5 409.7,90.0 410.2,89.2 410.7,88.8 411.2,87.2 411.7,86.5 412.2,86.1 412.7,87.2 413.2,87.9 413.7,87.8 414.2,88.5 414.7,90.4 415.2,89.9 415.7,87.8 416.2,87.6 416.7,85.6 417.2,85.3 417.7,86.1 418.2,85.5 418.7,83.8 419.2,83.4 419.7,83.7 420.2,82.9 420.7,83.1 421.2,84.6 421.7,84.9 422.2,83.6 422.7,82.8 423.2,82.2 423.7,81.4 424.2,80.6 424.7,80.6 425.2,81.9 425.7,81.7 426.2,81.4 426.7,81.9 427.2,82.8 427.7,83.1 428.2,81.3 428.7,80.4 429.2,80.5 429.7,80.7 430.2,82.6 430.7,83.2 431.2,82.3 431.7,81.6 432.2,82.4 432.7,82.8 433.2,81.8 433.7,79.6 434.2,78.4 434.7,79.7 435.2,78.6 435.7,77.5 436.2,78.2 436.7,76.7 437.2,74.1 437.7,73.9 438.2,74.0 438.7,72.9 439.2,69.6 439.7,68.8 440.2,69.0 440.7,67.4 441.2,60.9 441.7,54.5 442.2,52.4 442.7,52.0 443.2,50.1 443.7,45.9 444.2,39.2 444.7,34.0 445.2,33.1 445.7,33.1 446.2,33.6 446.7,35.9 447.2,38.1 447.7,37.8 448.2,38.7 448.7,41.9 449.2,44.3 449.7,45.7 450.2,48.2 450.7,52.3 451.2,55.9 451.7,57.7 452.2,59.4 452.7,59.9 453.2,58.0 453.7,58.7 454.2,60.9 454.7,62.3 455.2,64.1 455.7,65.9 456.2,66.3 456.7,66.9 457.2,67.0 457.7,69.8 458.2,73.4 458.7,73.9 459.2,75.3 459.7,76.6 460.2,77.1 460.7,78.7 461.2,80.1 461.7,80.8 462.2,79.8 462.7,79.2 463.2,80.3 463.7,82.4 464.2,84.2 464.7,84.2 465.2,84.1 465.7,85.3 466.2,86.5 466.7,86.4 467.2,86.9 467.7,85.3 468.2,85.8 468.7,88.1 469.2,88.4 469.7,87.8 470.2,88.8 470.7,90.5 471.2,93.2 471.7,94.1 472.2,93.7 472.7,94.3 473.2,94.4 473.7,94.8 474.2,95.0 474.7,95.1 475.2,96.2 475.7,97.0 476.2,97.6 476.7,97.7 477.2,95.8 477.7,94.2 478.2,95.2 478.7,96.7 479.2,97.5 479.7,98.4 480.2,98.6 480.7,97.8 481.2,97.1 481.7,97.3 482.2,98.9 482.7,98.1 483.2,96.7 483.7,97.0 484.2,99.3 484.7,102.0 485.2,101.1 485.7,98.8 486.2,99.9 486.7,101.6 487.2,102.5 487.7,102.0 488.2,101.3 488.7,101.6 489.2,100.1 489.7,98.5 490.2,99.6 490.7,101.6 491.2,103.9 491.7,104.0 492.2,102.3 492.7,102.6 493.2,102.3 493.7,100.2 494.2,99.9 494.7,102.3 495.2,103.3 495.7,101.7 496.2,100.3 496.7,102.4 497.2,103.3 497.7,103.3 498.2,103.6 498.7,103.2" stroke="#787878" stroke-width="1.0" fill="none" stroke-linejoin="round" />
<path d="M389.2,92.6 389.7,92.8 390.2,93.2 390.7,94.9 391.2,96.1 391.7,95.0 392.2,96.4 392.7,97.1 393.2,95.3 393.7,94.6 394.2,96.1 394.7,97.9 395.2,98.8 395.7,98.0 396.2,97.0 396.7,94.5 397.2,92.4 397.7,91.3 398.2,91.9 398.7,93.2 399.2,93.5 399.7,93.0 400.2,94.1 400.7,93.7 401.2,92.7 401.7,93.5 402.2,95.5 402.7,94.1 403.2,92.0 403.7,92.5 404.2,94.4 404.7,93.8 405.2,94.5 405.7,93.5 406.2,91.0 406.7,92.3 407.2,91.6 407.7,90.1 408.2,90.5 408.7,91.8 409.2,92.1 409.7,91.4 410.2,91.1 410.7,92.9 411.2,94.3 411.7,94.5 412.2,94.2 412.7,94.9 413.2,94.8 413.7,93.5 414.2,92.8 414.7,92.5 415.2,92.4 415.7,91.5 416.2,89.4 416.7,90.1 417.2,90.3 417.7,88.4 418.2,89.4 418.7,91.9 419.2,90.8 419.7,90.8 420.2,91.6 420.7,91.0 421.2,90.5 421.7,90.9 422.2,91.4 422.7,92.0 423.2,93.9 423.7,95.7 424.2,96.0 424.7,96.8 425.2,96.7 425.7,96.6 426.2,96.3 426.7,95.9 427.2,96.5 427.7,96.6 428.2,96.6 428.7,98.6 429.2,99.8 429.7,99.6 430.2,98.0 430.7,97.6 431.2,100.7 431.7,100.1 432.2,98.3 432.7,99.5 433.2,99.6 433.7,99.7 434.2,99.5 434.7,99.5 435.2,98.5 435.7,97.6 436.2,97.5 436.7,97.2 437.2,96.0 437.7,97.2 438.2,97.2 438.7,95.8 439.2,95.4 439.7,94.8 440.2,93.5 440.7,90.9 441.2,86.8 441.7,84.7 442.2,83.1 442.7,80.8 443.2,78.4 443.7,75.0 444.2,73.9 444.7,73.6 445.2,71.0 445.7,69.8 446.2,70.6 446.7,71.7 447.2,71.8 447.7,72.0 448.2,72.2 448.7,74.4 449.2,77.1 449.7,79.7 450.2,82.8 450.7,85.0 451.2,84.9 451.7,85.0 452.2,86.9 452.7,87.5 453.2,87.0 453.7,87.9 454.2,87.9 454.7,88.2 455.2,89.3 455.7,90.6 456.2,90.0 456.7,90.4 457.2,91.9 457.7,93.5 458.2,93.4 458.7,92.5 459.2,94.1 459.7,95.4 460.2,97.0 460.7,97.6 461.2,97.2 461.7,98.0 462.2,99.3 462.7,101.5 463.2,103.1 463.7,102.0 464.2,101.9 464.7,102.7 465.2,99.8 465.7,98.1 466.2,96.8 466.7,95.6 467.2,97.1 467.7,97.9 468.2,97.1 468.7,96.9 469.2,96.5 469.7,96.2 470.2,97.6 470.7,97.9 471.2,99.1 471.7,101.8 472.2,103.0 472.7,103.1 473.2,105.3 473.7,106.6 474.2,105.3 474.7,104.5 475.2,104.4 475.7,103.9 476.2,104.0 476.7,105.7 477.2,106.0 477.7,104.9 478.2,104.3 478.7,104.1 479.2,103.8 479.7,103.3 480.2,103.8 480.7,105.7 481.2,105.8 481.7,106.5 482.2,107.3 482.7,105.8 483.2,104.6 483.7,102.9 484.2,103.1 484.7,104.1 485.2,102.7 485.7,100.7 486.2,100.6 486.7,101.8 487.2,102.1 487.7,103.1 488.2,103.2 488.7,102.7 489.2,103.2 489.7,104.1 490.2,103.5 490.7,103.0 491.2,103.9 491.7,104.2 492.2,104.7 492.7,105.9 493.2,106.6 493.7,106.8 494.2,105.8 494.7,105.0 495.2,105.3 495.7,105.6 496.2,104.9 496.7,104.6 497.2,104.3 497.7,104.7 498.2,106.8 498.7,110.0" stroke="#d2d2d2" stroke-width="4.0" fill="none" stroke-linejoin="round" stroke-linecap="round"/>
<path d="M389.2,92.6 389.7,92.8 390.2,93.2 390.7,94.9 391.2,96.1 391.7,95.0 392.2,96.4 392.7,97.1 393.2,95.3 393.7,94.6 394.2,96.1 394.7,97.9 395.2,98.8 395.7,98.0 396.2,97.0 396.7,94.5 397.2,92.4 397.7,91.3 398.2,91.9 398.7,93.2 399.2,93.5 399.7,93.0 400.2,94.1 400.7,93.7 401.2,92.7 401.7,93.5 402.2,95.5 402.7,94.1 403.2,92.0 403.7,92.5 404.2,94.4 404.7,93.8 405.2,94.5 405.7,93.5 406.2,91.0 406.7,92.3 407.2,91.6 407.7,90.1 408.2,90.5 408.7,91.8 409.2,92.1 409.7,91.4 410.2,91.1 410.7,92.9 411.2,94.3 411.7,94.5 412.2,94.2 412.7,94.9 413.2,94.8 413.7,93.5 414.2,92.8 414.7,92.5 415.2,92.4 415.7,91.5 416.2,89.4 416.7,90.1 417.2,90.3 417.7,88.4 418.2,89.4 418.7,91.9 419.2,90.8 419.7,90.8 420.2,91.6 420.7,91.0 421.2,90.5 421.7,90.9 422.2,91.4 422.7,92.0 423.2,93.9 423.7,95.7 424.2,96.0 424.7,96.8 425.2,96.7 425.7,96.6 426.2,96.3 426.7,95.9 427.2,96.5 427.7,96.6 428.2,96.6 428.7,98.6 429.2,99.8 429.7,99.6 430.2,98.0 430.7,97.6 431.2,100.7 431.7,100.1 432.2,98.3 432.7,99.5 433.2,99.6 433.7,99.7 434.2,99.5 434.7,99.5 435.2,98.5 435.7,97.6 436.2,97.5 436.7,97.2 437.2,96.0 437.7,97.2 438.2,97.2 438.7,95.8 439.2,95.4 439.7,94.8 440.2,93.5 440.7,90.9 441.2,86.8 441.7,84.7 442.2,83.1 442.7,80.8 443.2,78.4 443.7,75.0 444.2,73.9 444.7,73.6 445.2,71.0 445.7,69.8 446.2,70.6 446.7,71.7 447.2,71.8 447.7,72.0 448.2,72.2 448.7,74.4 449.2,77.1 449.7,79.7 450.2,82.8 450.7,85.0 451.2,84.9 451.7,85.0 452.2,86.9 452.7,87.5 453.2,87.0 453.7,87.9 454.2,87.9 454.7,88.2 455.2,89.3 455.7,90.6 456.2,90.0 456.7,90.4 457.2,91.9 457.7,93.5 458.2,93.4 458.7,92.5 459.2,94.1 459.7,95.4 460.2,97.0 460.7,97.6 461.2,97.2 461.7,98.0 462.2,99.3 462.7,101.5 463.2,103.1 463.7,102.0 464.2,101.9 464.7,102.7 465.2,99.8 465.7,98.1 466.2,96.8 466.7,95.6 467.2,97.1 467.7,97.9 468.2,97.1 468.7,96.9 469.2,96.5 469.7,96.2 470.2,97.6 470.7,97.9 471.2,99.1 471.7,101.8 472.2,103.0 472.7,103.1 473.2,105.3 473.7,106.6 474.2,105.3 474.7,104.5 475.2,104.4 475.7,103.9 476.2,104.0 476.7,105.7 477.2,106.0 477.7,104.9 478.2,104.3 478.7,104.1 479.2,103.8 479.7,103.3 480.2,103.8 480.7,105.7 481.2,105.8 481.7,106.5 482.2,107.3 482.7,105.8 483.2,104.6 483.7,102.9 484.2,103.1 484.7,104.1 485.2,102.7 485.7,100.7 486.2,100.6 486.7,101.8 487.2,102.1 487.7,103.1 488.2,103.2 488.7,102.7 489.2,103.2 489.7,104.1 490.2,103.5 490.7,103.0 491.2,103.9 491.7,104.2 492.2,104.7 492.7,105.9 493.2,106.6 493.7,106.8 494.2,105.8 494.7,105.0 495.2,105.3 495.7,105.6 496.2,104.9 496.7,104.6 497.2,104.3 497.7,104.7 498.2,106.8 498.7,110.0" stroke="#b00c0c" stroke-width="1.2" fill="none" stroke-linejoin="round" />
<line x1="388.80" y1="22.00" x2="499.30" y2="22.00" stroke="#9a9a9a" stroke-width="1.4" />
<line x1="499.30" y1="22.00" x2="499.30" y2="116.60" stroke="#3a3a3a" stroke-width="1" />
<line x1="388.80" y1="22.00" x2="388.80" y2="116.60" stroke="#3a3a3a" stroke-width="1" />
<line x1="388.80" y1="116.60" x2="499.30" y2="116.60" stroke="#9a9a9a" stroke-width="1.4" />
<line x1="443.80" y1="116.60" x2="443.80" y2="118.40" stroke="#888" stroke-width="0.8" />
<text x="380.00" y="129.10" font-size="8.82" font-weight="bold" stroke="#111" stroke-width="0.25" textLength="14.00" lengthAdjust="spacingAndGlyphs" >-5.0</text>
<text x="438.00" y="129.10" font-size="8.82" font-weight="bold" stroke="#111" stroke-width="0.25" textLength="12.40" lengthAdjust="spacingAndGlyphs" >TSS</text>
<text x="486.40" y="129.10" font-size="8.82" font-weight="bold" stroke="#111" stroke-width="0.25" textLength="19.40" lengthAdjust="spacingAndGlyphs" >5.0Kb</text>
<text x="496.10" y="30.00" font-size="8.82" font-weight="bold" stroke="#7a7a7a" stroke-width="0.25" fill="#7a7a7a" text-anchor="end" textLength="13.60" lengthAdjust="spacingAndGlyphs" >veh</text>
<text x="496.10" y="39.60" font-size="8.82" font-weight="bold" stroke="#b5121b" stroke-width="0.25" fill="#b5121b" text-anchor="end" textLength="14.80" lengthAdjust="spacingAndGlyphs" >CAF</text>
<text x="542.90" y="8.80" font-size="12.5" font-weight="bold" stroke="#111" stroke-width="0.25" textLength="8.10" lengthAdjust="spacingAndGlyphs" style="stroke-width:0.6">D</text>
<text x="576.00" y="15.80" font-size="8.82" font-weight="bold" stroke="#111" stroke-width="0.25" textLength="88.90" lengthAdjust="spacingAndGlyphs" >H3K27ac - TSS genes UP</text>
<text x="561.50" y="100.00" font-size="8.3" font-weight="bold" stroke="#111" stroke-width="0.25" text-anchor="end" >10</text>
<line x1="563.50" y1="97.00" x2="565.50" y2="97.00" stroke="#888" stroke-width="0.8" />
<text x="561.50" y="79.30" font-size="8.3" font-weight="bold" stroke="#111" stroke-width="0.25" text-anchor="end" >20</text>
<line x1="563.50" y1="76.30" x2="565.50" y2="76.30" stroke="#888" stroke-width="0.8" />
<text x="561.50" y="58.60" font-size="8.3" font-weight="bold" stroke="#111" stroke-width="0.25" text-anchor="end" >30</text>
<line x1="563.50" y1="55.60" x2="565.50" y2="55.60" stroke="#888" stroke-width="0.8" />
<text x="561.50" y="37.90" font-size="8.3" font-weight="bold" stroke="#111" stroke-width="0.25" text-anchor="end" >40</text>
<line x1="563.50" y1="34.90" x2="565.50" y2="34.90" stroke="#888" stroke-width="0.8" />
<path d="M565.8,111.1 566.3,111.1 566.8,111.1 567.3,111.1 567.8,111.1 568.3,111.1 568.8,111.1 569.3,111.1 569.8,111.1 570.3,111.1 570.8,111.1 571.3,111.1 571.8,111.1 572.3,111.1 572.8,111.1 573.3,111.1 573.8,111.1 574.3,111.1 574.8,111.1 575.3,111.1 575.8,111.1 576.3,111.0 576.8,111.0 577.3,111.0 577.8,111.0 578.3,111.0 578.8,111.0 579.3,111.0 579.8,111.0 580.3,111.0 580.8,110.9 581.3,110.9 581.8,110.9 582.3,110.9 582.8,110.9 583.3,110.9 583.8,110.9 584.3,110.8 584.8,110.8 585.3,110.8 585.8,110.8 586.3,110.8 586.8,110.8 587.3,110.7 587.8,110.7 588.3,110.7 588.8,110.7 589.3,110.7 589.8,110.6 590.3,110.6 590.8,110.6 591.3,110.6 591.8,110.6 592.3,110.5 592.8,110.5 593.3,110.5 593.8,110.5 594.3,110.4 594.8,110.4 595.3,110.4 595.8,110.4 596.3,110.3 596.8,110.3 597.3,110.3 597.8,110.2 598.3,110.2 598.8,110.1 599.3,110.1 599.8,110.0 600.3,109.9 600.8,109.8 601.3,109.7 601.8,109.6 602.3,109.4 602.8,109.3 603.3,109.2 603.8,109.0 604.3,108.8 604.8,108.7 605.3,108.5 605.8,108.3 606.3,108.1 606.8,107.9 607.3,107.6 607.8,107.3 608.3,106.8 608.8,106.2 609.3,105.6 609.8,104.9 610.3,104.1 610.8,103.3 611.3,102.4 611.8,101.5 612.3,100.6 612.8,99.6 613.3,98.4 613.8,97.1 614.3,95.7 614.8,94.3 615.3,93.0 615.8,91.6 616.3,90.0 616.8,88.7 617.3,88.3 617.8,89.2 618.3,90.8 618.8,92.5 619.3,93.3 619.8,91.8 620.3,86.6 620.8,80.2 621.3,74.8 621.8,71.3 622.3,68.1 622.8,65.9 623.3,65.6 623.8,67.1 624.3,69.6 624.8,72.1 625.3,74.6 625.8,77.4 626.3,80.3 626.8,83.1 627.3,85.5 627.8,87.6 628.3,89.7 628.8,91.7 629.3,93.5 629.8,95.2 630.3,96.6 630.8,97.7 631.3,98.7 631.8,99.5 632.3,100.4 632.8,101.1 633.3,101.8 633.8,102.4 634.3,103.0 634.8,103.5 635.3,103.9 635.8,104.4 636.3,104.7 636.8,105.1 637.3,105.4 637.8,105.8 638.3,106.1 638.8,106.4 639.3,106.7 639.8,106.9 640.3,107.2 640.8,107.4 641.3,107.6 641.8,107.8 642.3,108.0 642.8,108.2 643.3,108.4 643.8,108.5 644.3,108.6 644.8,108.7 645.3,108.8 645.8,108.9 646.3,109.0 646.8,109.1 647.3,109.2 647.8,109.3 648.3,109.4 648.8,109.5 649.3,109.5 649.8,109.6 650.3,109.7 650.8,109.8 651.3,109.8 651.8,109.9 652.3,110.0 652.8,110.0 653.3,110.1 653.8,110.1 654.3,110.2 654.8,110.2 655.3,110.2 655.8,110.2 656.3,110.3 656.8,110.3 657.3,110.3 657.8,110.3 658.3,110.3 658.8,110.3 659.3,110.2 659.8,110.2 660.3,110.1 660.8,110.1 661.3,110.0 661.8,109.9 662.3,109.9 662.8,109.8 663.3,109.7 663.8,109.6 664.3,109.5 664.8,109.3 665.3,109.2 665.8,109.1 666.3,109.1 666.8,109.1 667.3,109.2 667.8,109.3 668.3,109.4 668.8,109.6 669.3,109.8 669.8,109.9 670.3,110.1 670.8,110.2 671.3,110.3 671.8,110.4 672.3,110.4 672.8,110.5 673.3,110.5 673.8,110.6 674.3,110.7 674.8,110.7 675.3,110.7 675.8,110.8" stroke="#555" stroke-width="0.8" fill="none" stroke-linejoin="round" />
<path d="M565.8,109.4 566.3,109.4 566.8,109.4 567.3,109.4 567.8,109.4 568.3,109.4 568.8,109.4 569.3,109.4 569.8,109.4 570.3,109.4 570.8,109.4 571.3,109.4 571.8,109.4 572.3,109.4 572.8,109.4 573.3,109.4 573.8,109.4 574.3,109.4 574.8,109.4 575.3,109.4 575.8,109.4 576.3,109.4 576.8,109.4 577.3,109.4 577.8,109.4 578.3,109.4 578.8,109.4 579.3,109.4 579.8,109.4 580.3,109.4 580.8,109.4 581.3,109.4 581.8,109.4 582.3,109.4 582.8,109.3 583.3,109.3 583.8,109.2 584.3,109.2 584.8,109.1 585.3,109.0 585.8,109.0 586.3,108.9 586.8,108.8 587.3,108.8 587.8,108.7 588.3,108.6 588.8,108.5 589.3,108.5 589.8,108.4 590.3,108.3 590.8,108.2 591.3,108.1 591.8,108.1 592.3,108.0 592.8,107.9 593.3,107.8 593.8,107.6 594.3,107.5 594.8,107.4 595.3,107.3 595.8,107.2 596.3,107.1 596.8,106.9 597.3,106.8 597.8,106.7 598.3,106.5 598.8,106.4 599.3,106.2 599.8,106.0 600.3,105.9 600.8,105.7 601.3,105.5 601.8,105.3 602.3,105.1 602.8,104.8 603.3,104.6 603.8,104.3 604.3,104.0 604.8,103.6 605.3,103.2 605.8,102.7 606.3,102.2 606.8,101.7 607.3,101.1 607.8,100.5 608.3,99.9 608.8,99.2 609.3,98.4 609.8,97.6 610.3,96.7 610.8,95.7 611.3,94.6 611.8,93.3 612.3,92.0 612.8,90.2 613.3,88.1 613.8,85.9 614.3,83.7 614.8,81.8 615.3,79.7 615.8,77.5 616.3,75.5 616.8,74.2 617.3,73.9 617.8,75.4 618.3,78.0 618.8,80.6 619.3,82.0 619.8,79.8 620.3,72.6 620.8,63.0 621.3,53.8 621.8,45.6 622.3,36.3 622.8,29.3 623.3,28.1 623.8,30.7 624.3,35.2 624.8,39.9 625.3,45.1 625.8,51.2 626.3,56.8 626.8,60.9 627.3,64.4 627.8,67.5 628.3,70.3 628.8,72.8 629.3,75.0 629.8,77.1 630.3,79.0 630.8,80.8 631.3,82.5 631.8,84.0 632.3,85.4 632.8,86.7 633.3,87.9 633.8,89.1 634.3,90.2 634.8,91.3 635.3,92.3 635.8,93.2 636.3,94.1 636.8,94.9 637.3,95.6 637.8,96.3 638.3,96.9 638.8,97.6 639.3,98.2 639.8,98.8 640.3,99.3 640.8,99.9 641.3,100.4 641.8,100.8 642.3,101.3 642.8,101.7 643.3,102.1 643.8,102.4 644.3,102.7 644.8,102.9 645.3,103.2 645.8,103.4 646.3,103.7 646.8,103.9 647.3,104.1 647.8,104.3 648.3,104.5 648.8,104.6 649.3,104.8 649.8,104.9 650.3,105.1 650.8,105.2 651.3,105.3 651.8,105.4 652.3,105.4 652.8,105.5 653.3,105.6 653.8,105.7 654.3,105.8 654.8,105.8 655.3,105.9 655.8,106.0 656.3,106.0 656.8,106.0 657.3,106.1 657.8,106.1 658.3,106.1 658.8,106.0 659.3,106.0 659.8,106.0 660.3,105.9 660.8,105.9 661.3,105.9 661.8,105.8 662.3,105.8 662.8,105.7 663.3,105.7 663.8,105.6 664.3,105.6 664.8,105.5 665.3,105.4 665.8,105.4 666.3,105.4 666.8,105.4 667.3,105.5 667.8,105.6 668.3,105.8 668.8,106.0 669.3,106.2 669.8,106.4 670.3,106.6 670.8,106.8 671.3,106.9 671.8,107.0 672.3,107.1 672.8,107.2 673.3,107.3 673.8,107.4 674.3,107.5 674.8,107.5 675.3,107.6 675.8,107.7" stroke="#b8141c" stroke-width="1.0" fill="none" stroke-linejoin="round" />
<rect x="565.50" y="21.30" width="110.90" height="94.60" fill="none" stroke="#3a3a3a" stroke-width="1" />
<line x1="620.40" y1="115.90" x2="620.40" y2="117.70" stroke="#888" stroke-width="0.8" />
<text x="557.00" y="129.10" font-size="8.82" font-weight="bold" stroke="#111" stroke-width="0.25" textLength="13.80" lengthAdjust="spacingAndGlyphs" >-5.0</text>
<text x="614.90" y="129.10" font-size="8.82" font-weight="bold" stroke="#111" stroke-width="0.25" textLength="12.10" lengthAdjust="spacingAndGlyphs" >TSS</text>
<text x="663.80" y="129.10" font-size="8.82" font-weight="bold" stroke="#111" stroke-width="0.25" textLength="21.20" lengthAdjust="spacingAndGlyphs" >5.0Kb</text>
<text x="569.30" y="29.80" font-size="8.82" stroke="#8a8a8a" stroke-width="0.3" fill="#8a8a8a" textLength="13.60" lengthAdjust="spacingAndGlyphs" >veh</text>
<text x="569.30" y="39.50" font-size="8.82" font-weight="bold" stroke="#b5121b" stroke-width="0.25" fill="#b5121b" textLength="14.60" lengthAdjust="spacingAndGlyphs" >CAF</text>
<defs><linearGradient id="rdgy" x1="0" y1="0" x2="0" y2="1"><stop offset="0.0" stop-color="#67001f"/><stop offset="0.1" stop-color="#b2182b"/><stop offset="0.2" stop-color="#d6604d"/><stop offset="0.3" stop-color="#f4a582"/><stop offset="0.4" stop-color="#fddbc7"/><stop offset="0.5" stop-color="#ffffff"/><stop offset="0.6" stop-color="#e0e0e0"/><stop offset="0.7" stop-color="#bababa"/><stop offset="0.8" stop-color="#878787"/><stop offset="0.9" stop-color="#4d4d4d"/><stop offset="1.0" stop-color="#1a1a1a"/></linearGradient><linearGradient id="zs" x1="0" y1="0" x2="1" y2="0"><stop offset="0" stop-color="#222"/><stop offset="0.5" stop-color="#fff"/><stop offset="1" stop-color="#f00"/></linearGradient></defs>
<rect x="21.50" y="156.50" width="112.00" height="164.00" fill="none" stroke="#2a2a2a" stroke-width="1.0" />
<rect x="21.50" y="325.50" width="112.00" height="164.00" fill="none" stroke="#2a2a2a" stroke-width="1.0" />
<rect x="200.50" y="156.50" width="112.00" height="164.00" fill="none" stroke="#2a2a2a" stroke-width="1.0" />
<rect x="200.50" y="325.50" width="112.00" height="164.00" fill="none" stroke="#2a2a2a" stroke-width="1.0" />
<rect x="141.00" y="156.60" width="6.60" height="334.00" fill="url(#rdgy)" stroke="#333" stroke-width="0.8" />
<rect x="319.60" y="156.60" width="6.60" height="334.00" fill="url(#rdgy)" stroke="#333" stroke-width="0.8" />
<text x="149.00" y="490.20" font-size="9.16" font-weight="bold" stroke="#111" stroke-width="0.25" textLength="12.20" lengthAdjust="spacingAndGlyphs" >0.0</text>
<text x="149.00" y="451.70" font-size="9.16" font-weight="bold" stroke="#111" stroke-width="0.25" textLength="16.20" lengthAdjust="spacingAndGlyphs" >10.0</text>
<text x="149.00" y="413.20" font-size="9.16" font-weight="bold" stroke="#111" stroke-width="0.25" textLength="16.20" lengthAdjust="spacingAndGlyphs" >20.0</text>
<text x="149.00" y="374.70" font-size="9.16" font-weight="bold" stroke="#111" stroke-width="0.25" textLength="16.20" lengthAdjust="spacingAndGlyphs" >30.0</text>
<text x="149.00" y="336.20" font-size="9.16" font-weight="bold" stroke="#111" stroke-width="0.25" textLength="16.20" lengthAdjust="spacingAndGlyphs" >40.0</text>
<text x="149.00" y="297.70" font-size="9.16" font-weight="bold" stroke="#111" stroke-width="0.25" textLength="16.20" lengthAdjust="spacingAndGlyphs" >50.0</text>
<text x="149.00" y="259.20" font-size="9.16" font-weight="bold" stroke="#111" stroke-width="0.25" textLength="16.20" lengthAdjust="spacingAndGlyphs" >60.0</text>
<text x="149.00" y="220.70" font-size="9.16" font-weight="bold" stroke="#111" stroke-width="0.25" textLength="16.20" lengthAdjust="spacingAndGlyphs" >70.0</text>
<text x="149.00" y="182.20" font-size="9.16" font-weight="bold" stroke="#111" stroke-width="0.25" textLength="16.20" lengthAdjust="spacingAndGlyphs" >80.0</text>
<text x="328.10" y="490.20" font-size="9.16" font-weight="bold" stroke="#111" stroke-width="0.25" textLength="12.20" lengthAdjust="spacingAndGlyphs" >0.0</text>
<text x="328.10" y="449.12" font-size="9.16" font-weight="bold" stroke="#111" stroke-width="0.25" textLength="12.20" lengthAdjust="spacingAndGlyphs" >2.5</text>
<text x="328.10" y="408.05" font-size="9.16" font-weight="bold" stroke="#111" stroke-width="0.25" textLength="12.20" lengthAdjust="spacingAndGlyphs" >5.0</text>
<text x="328.10" y="366.97" font-size="9.16" font-weight="bold" stroke="#111" stroke-width="0.25" textLength="12.20" lengthAdjust="spacingAndGlyphs" >7.5</text>
<text x="328.10" y="325.90" font-size="9.16" font-weight="bold" stroke="#111" stroke-width="0.25" textLength="15.80" lengthAdjust="spacingAndGlyphs" >10.0</text>
<text x="328.10" y="284.82" font-size="9.16" font-weight="bold" stroke="#111" stroke-width="0.25" textLength="15.80" lengthAdjust="spacingAndGlyphs" >12.5</text>
<text x="328.10" y="243.75" font-size="9.16" font-weight="bold" stroke="#111" stroke-width="0.25" textLength="15.80" lengthAdjust="spacingAndGlyphs" >15.0</text>
<text x="328.10" y="202.68" font-size="9.16" font-weight="bold" stroke="#111" stroke-width="0.25" textLength="15.80" lengthAdjust="spacingAndGlyphs" >17.5</text>
<text x="328.10" y="161.60" font-size="9.16" font-weight="bold" stroke="#111" stroke-width="0.25" textLength="15.80" lengthAdjust="spacingAndGlyphs" >20.0</text>
<text x="178.00" y="323.30" font-size="9.74" font-weight="bold" stroke="#111" stroke-width="0.25" text-anchor="middle" textLength="23.60" lengthAdjust="spacingAndGlyphs" transform="rotate(-90 178.00 323.30)" >RPKM</text>
<text x="357.50" y="323.30" font-size="9.74" font-weight="bold" stroke="#111" stroke-width="0.25" text-anchor="middle" textLength="23.60" lengthAdjust="spacingAndGlyphs" transform="rotate(-90 357.50 323.30)" >RPKM</text>
<text x="16.20" y="239.50" font-size="9.98" font-weight="bold" stroke="#111" stroke-width="0.25" text-anchor="middle" textLength="14.40" lengthAdjust="spacingAndGlyphs" transform="rotate(-90 16.20 239.50)" >veh</text>
<text x="14.10" y="407.60" font-size="9.98" font-weight="bold" stroke="#111" stroke-width="0.25" text-anchor="middle" textLength="15.00" lengthAdjust="spacingAndGlyphs" transform="rotate(-90 14.10 407.60)" >CAF</text>
<text x="197.60" y="239.30" font-size="9.98" font-weight="bold" stroke="#111" stroke-width="0.25" text-anchor="middle" textLength="14.40" lengthAdjust="spacingAndGlyphs" transform="rotate(-90 197.60 239.30)" >veh</text>
<text x="196.00" y="407.80" font-size="9.98" font-weight="bold" stroke="#111" stroke-width="0.25" text-anchor="middle" textLength="15.00" lengthAdjust="spacingAndGlyphs" transform="rotate(-90 196.00 407.80)" >CAF</text>
<text x="14.70" y="499.40" font-size="8.82" font-weight="bold" stroke="#111" stroke-width="0.25" textLength="13.40" lengthAdjust="spacingAndGlyphs" >-5.0</text>
<text x="71.60" y="499.40" font-size="8.82" font-weight="bold" stroke="#111" stroke-width="0.25" textLength="12.20" lengthAdjust="spacingAndGlyphs" >TSS</text>
<text x="123.60" y="499.40" font-size="8.82" font-weight="bold" stroke="#111" stroke-width="0.25" textLength="20.60" lengthAdjust="spacingAndGlyphs" >5.0Kb</text>
<text x="184.60" y="499.80" font-size="8.82" font-weight="bold" stroke="#111" stroke-width="0.25" textLength="14.40" lengthAdjust="spacingAndGlyphs" >-5.0</text>
<text x="202.70" y="499.80" font-size="8.82" font-weight="bold" stroke="#111" stroke-width="0.25" textLength="12.40" lengthAdjust="spacingAndGlyphs" >TSS</text>
<text x="289.70" y="499.80" font-size="8.82" font-weight="bold" stroke="#111" stroke-width="0.25" textLength="12.50" lengthAdjust="spacingAndGlyphs" >TES</text>
<text x="306.70" y="499.80" font-size="8.82" font-weight="bold" stroke="#111" stroke-width="0.25" textLength="21.20" lengthAdjust="spacingAndGlyphs" >5.0Kb</text>
<text x="375.40" y="165.40" font-size="12.5" font-weight="bold" stroke="#111" stroke-width="0.25" textLength="6.20" lengthAdjust="spacingAndGlyphs" style="stroke-width:0.6">E</text>
<ellipse cx="518.4" cy="215.3" rx="49.5" ry="45.6" fill="#d77a7e" stroke="#c4444e" stroke-width="0.9"/>
<ellipse cx="518.2" cy="263.7" rx="49.3" ry="45.3" fill="rgba(222,180,28,0.56)" stroke="#e0a050" stroke-width="0.7"/>
<ellipse cx="566.3" cy="239.6" rx="49.5" ry="45.8" fill="rgba(126,126,126,0.575)" stroke="#9a9a9a" stroke-width="0.7"/>
<text x="495.80" y="195.40" font-size="9.9" font-weight="bold" stroke="#111" stroke-width="0.25" textLength="21.00" lengthAdjust="spacingAndGlyphs" >3031</text>
<text x="541.00" y="220.30" font-size="9.9" font-weight="bold" stroke="#111" stroke-width="0.25" textLength="14.30" lengthAdjust="spacingAndGlyphs" >750</text>
<text x="495.80" y="243.00" font-size="9.9" font-weight="bold" stroke="#111" stroke-width="0.25" textLength="10.50" lengthAdjust="spacingAndGlyphs" >64</text>
<text x="530.80" y="243.00" font-size="9.9" font-weight="bold" stroke="#111" stroke-width="0.25" textLength="10.50" lengthAdjust="spacingAndGlyphs" >75</text>
<text x="583.30" y="243.00" font-size="9.9" font-weight="bold" stroke="#111" stroke-width="0.25" textLength="21.00" lengthAdjust="spacingAndGlyphs" >1213</text>
<text x="541.60" y="272.00" font-size="9.9" font-weight="bold" stroke="#111" stroke-width="0.25" textLength="10.20" lengthAdjust="spacingAndGlyphs" >14</text>
<text x="501.00" y="286.80" font-size="9.9" font-weight="bold" stroke="#111" stroke-width="0.25" textLength="10.50" lengthAdjust="spacingAndGlyphs" >43</text>
<text x="407.80" y="200.40" font-size="9.51" font-weight="bold" stroke="#111" stroke-width="0.25" textLength="53.80" lengthAdjust="spacingAndGlyphs" >H3K27ac gain</text>
<text x="567.30" y="189.60" font-size="9.51" font-weight="bold" stroke="#111" stroke-width="0.25" textLength="75.40" lengthAdjust="spacingAndGlyphs" >Upregulated genes</text>
<text x="408.70" y="292.20" font-size="9.51" font-weight="bold" stroke="#111" stroke-width="0.25" textLength="61.20" lengthAdjust="spacingAndGlyphs" >H3K27me3 loss</text>
<path d="M535.5,246 L535.5,301.1 L475.3,301.1 L475.3,320" fill="none" stroke="#111" stroke-width="1.4" stroke-dasharray="1.3,1.1"/>
<path d="M472.1,319.5 L478.5,319.5 L475.3,329.5 Z" fill="#111"/>
<text x="434.40" y="338.20" font-size="9.28" font-weight="bold" stroke="#111" stroke-width="0.25" textLength="83.60" lengthAdjust="spacingAndGlyphs" >GO TERM-BP-DIRECT</text>
<rect x="381.00" y="347.90" width="190.80" height="10.60" fill="#b4b4b4" />
<text x="384.80" y="355.20" font-size="6.61" font-weight="bold" stroke="#1a1a1a" stroke-width="0.25" fill="#1a1a1a" textLength="116.30" lengthAdjust="spacingAndGlyphs" >Embryonic skeletal system morphogenesis</text>
<rect x="381.00" y="361.02" width="190.00" height="10.60" fill="#b4b4b4" />
<text x="384.80" y="368.32" font-size="6.61" font-weight="bold" stroke="#1a1a1a" stroke-width="0.25" fill="#1a1a1a" textLength="139.00" lengthAdjust="spacingAndGlyphs" >Neg. reg. of transcription from RNA polII promoter</text>
<rect x="381.00" y="374.14" width="181.10" height="10.60" fill="#b4b4b4" />
<text x="384.80" y="381.44" font-size="6.61" font-weight="bold" stroke="#1a1a1a" stroke-width="0.25" fill="#1a1a1a" textLength="95.80" lengthAdjust="spacingAndGlyphs" >G1/S transition of mitotic cell cycle</text>
<rect x="381.00" y="387.26" width="172.10" height="10.60" fill="#b4b4b4" />
<text x="384.80" y="394.56" font-size="6.61" font-weight="bold" stroke="#1a1a1a" stroke-width="0.25" fill="#1a1a1a" textLength="40.00" lengthAdjust="spacingAndGlyphs" >Axon guidance</text>
<rect x="381.00" y="400.38" width="153.10" height="10.60" fill="#b4b4b4" />
<text x="384.80" y="407.68" font-size="6.61" font-weight="bold" stroke="#1a1a1a" stroke-width="0.25" fill="#1a1a1a" textLength="93.00" lengthAdjust="spacingAndGlyphs" >Proximal/distal pattern formation</text>
<rect x="381.00" y="413.50" width="145.40" height="10.60" fill="#b4b4b4" />
<text x="384.80" y="420.80" font-size="6.61" font-weight="bold" stroke="#1a1a1a" stroke-width="0.25" fill="#1a1a1a" textLength="78.50" lengthAdjust="spacingAndGlyphs" >Pituitary gland development</text>
<rect x="381.00" y="426.62" width="143.50" height="10.60" fill="#bd0f1c" />
<text x="384.80" y="434.82" font-size="9.16" font-weight="bold" stroke="#fff" stroke-width="0.25" fill="#fff" textLength="137.40" lengthAdjust="spacingAndGlyphs" >Epithelial to mesenchymal transition</text>
<rect x="381.00" y="439.74" width="141.60" height="10.60" fill="#b4b4b4" />
<text x="384.80" y="447.04" font-size="6.61" font-weight="bold" stroke="#1a1a1a" stroke-width="0.25" fill="#1a1a1a" textLength="93.00" lengthAdjust="spacingAndGlyphs" >Pos. reg. of neuron differentiation</text>
<rect x="381.00" y="452.86" width="132.30" height="10.60" fill="#b4b4b4" />
<text x="384.80" y="460.16" font-size="6.61" font-weight="bold" stroke="#1a1a1a" stroke-width="0.25" fill="#1a1a1a" textLength="110.00" lengthAdjust="spacingAndGlyphs" >Pos. reg. of transcription from RNA polII</text>
<rect x="381.00" y="465.98" width="127.10" height="10.60" fill="#b4b4b4" />
<text x="384.80" y="473.28" font-size="6.61" font-weight="bold" stroke="#1a1a1a" stroke-width="0.25" fill="#1a1a1a" textLength="50.90" lengthAdjust="spacingAndGlyphs" >Lung development</text>
<line x1="380.30" y1="341.00" x2="380.30" y2="481.20" stroke="#222" stroke-width="1" />
<line x1="380.30" y1="481.20" x2="589.00" y2="481.20" stroke="#222" stroke-width="1" />
<line x1="380.60" y1="481.20" x2="380.60" y2="484.60" stroke="#222" stroke-width="1" />
<text x="380.60" y="495.00" font-size="8.2" font-weight="bold" stroke="#111" stroke-width="0.25" text-anchor="middle" >0</text>
<line x1="444.50" y1="481.20" x2="444.50" y2="484.60" stroke="#222" stroke-width="1" />
<text x="444.50" y="495.00" font-size="8.2" font-weight="bold" stroke="#111" stroke-width="0.25" text-anchor="middle" >1</text>
<line x1="508.10" y1="481.20" x2="508.10" y2="484.60" stroke="#222" stroke-width="1" />
<text x="508.10" y="495.00" font-size="8.2" font-weight="bold" stroke="#111" stroke-width="0.25" text-anchor="middle" >2</text>
<line x1="571.70" y1="481.20" x2="571.70" y2="484.60" stroke="#222" stroke-width="1" />
<text x="571.70" y="495.00" font-size="8.2" font-weight="bold" stroke="#111" stroke-width="0.25" text-anchor="middle" >3</text>
<text x="462.50" y="504.40" font-size="9.05" font-weight="bold" stroke="#111" stroke-width="0.25" textLength="46.20" lengthAdjust="spacingAndGlyphs" >-Log10(pval)</text>
<path d="M528.5,431.4 L577.3,431.4" fill="none" stroke="#111" stroke-width="1.3" stroke-dasharray="1.2,1.1"/>
<path d="M577.3,418 L577.3,445" fill="none" stroke="#111" stroke-width="1.3" stroke-dasharray="1.2,1.1"/>
<rect x="586.20" y="419.80" width="11.50" height="8.55" fill="#6e6e6e" />
<rect x="597.65" y="419.80" width="11.50" height="8.55" fill="#ebebeb" />
<rect x="609.10" y="419.80" width="11.50" height="8.55" fill="#d2d2d2" />
<rect x="620.55" y="419.80" width="11.50" height="8.55" fill="#ff1414" />
<rect x="632.00" y="419.80" width="11.50" height="8.55" fill="#f21616" />
<rect x="643.45" y="419.80" width="11.50" height="8.55" fill="#ffe0e0" />
<rect x="586.20" y="428.30" width="11.50" height="8.55" fill="#a2a2a2" />
<rect x="597.65" y="428.30" width="11.50" height="8.55" fill="#ababab" />
<rect x="609.10" y="428.30" width="11.50" height="8.55" fill="#a3a3a3" />
<rect x="620.55" y="428.30" width="11.50" height="8.55" fill="#ff1c1c" />
<rect x="632.00" y="428.30" width="11.50" height="8.55" fill="#ff5a5a" />
<rect x="643.45" y="428.30" width="11.50" height="8.55" fill="#ff9c9c" />
<rect x="586.20" y="436.80" width="11.50" height="8.55" fill="#bdbdbd" />
<rect x="597.65" y="436.80" width="11.50" height="8.55" fill="#a8a8a8" />
<rect x="609.10" y="436.80" width="11.50" height="8.55" fill="#a0a0a0" />
<rect x="620.55" y="436.80" width="11.50" height="8.55" fill="#ff1c1c" />
<rect x="632.00" y="436.80" width="11.50" height="8.55" fill="#ff1212" />
<rect x="643.45" y="436.80" width="11.50" height="8.55" fill="#ffa4a4" />
<rect x="586.20" y="419.80" width="68.70" height="25.50" fill="none" stroke="#888" stroke-width="0.4" />
<text x="603.30" y="412.50" font-size="9.51" font-weight="bold" stroke="#111" stroke-width="0.25" text-anchor="middle" textLength="14.00" lengthAdjust="spacingAndGlyphs" >veh</text>
<text x="638.00" y="412.50" font-size="9.51" font-weight="bold" stroke="#111" stroke-width="0.25" text-anchor="middle" textLength="15.40" lengthAdjust="spacingAndGlyphs" >CAF</text>
<line x1="587.00" y1="416.40" x2="619.50" y2="416.40" stroke="#222" stroke-width="0.9" />
<line x1="621.20" y1="416.40" x2="653.70" y2="416.40" stroke="#222" stroke-width="0.9" />
<text x="658.80" y="426.40" font-size="7.6" stroke="#333" stroke-width="0.3" fill="#333" textLength="22.00" lengthAdjust="spacingAndGlyphs" style="font-style:italic" >Fgfr2</text>
<text x="658.80" y="434.40" font-size="7.6" stroke="#333" stroke-width="0.3" fill="#333" textLength="26.50" lengthAdjust="spacingAndGlyphs" style="font-style:italic" >Hmga2</text>
<text x="658.80" y="442.40" font-size="7.8" font-weight="bold" stroke="#111" stroke-width="0.25" textLength="26.50" lengthAdjust="spacingAndGlyphs" style="font-style:italic" >Nfatc1</text>
<line x1="658.50" y1="444.30" x2="685.00" y2="444.30" stroke="#111" stroke-width="0.8" />
<text x="634.40" y="454.20" font-size="9.51" font-weight="bold" stroke="#111" stroke-width="0.25" text-anchor="middle" textLength="28.00" lengthAdjust="spacingAndGlyphs" >Z-score</text>
<rect x="586.20" y="457.80" width="97.10" height="5.30" fill="url(#zs)" />
<text x="586.20" y="472.30" font-size="9.16" font-weight="bold" stroke="#111" stroke-width="0.25" textLength="18.60" lengthAdjust="spacingAndGlyphs" >-1.50</text>
<text x="634.00" y="472.30" font-size="9.16" font-weight="bold" stroke="#111" stroke-width="0.25" text-anchor="middle" textLength="16.20" lengthAdjust="spacingAndGlyphs" >0.00</text>
<text x="683.00" y="472.30" font-size="9.16" font-weight="bold" stroke="#111" stroke-width="0.25" text-anchor="end" textLength="15.60" lengthAdjust="spacingAndGlyphs" >1.50</text>
<text x="-0.30" y="534.30" font-size="12.5" font-weight="bold" stroke="#111" stroke-width="0.25" textLength="5.60" lengthAdjust="spacingAndGlyphs" style="stroke-width:0.6">F</text>
<path d="M24.10,561.30V560.86M24.70,561.30V560.60M25.30,561.30V560.55M25.90,561.30V560.25M26.50,561.30V558.31M28.90,561.30V559.83M30.70,561.30V560.85M31.30,561.30V560.29M31.90,561.30V558.00M33.10,561.30V559.92M33.70,561.30V559.70M34.30,561.30V560.91M34.90,561.30V560.54M37.90,561.30V560.44M40.30,561.30V559.85M41.50,561.30V560.26M42.70,561.30V558.86M44.50,561.30V559.23M45.10,561.30V558.26M45.70,561.30V555.10M49.30,561.30V559.19M49.90,561.30V560.33M50.50,561.30V560.77M51.10,561.30V560.03M51.70,561.30V560.27M53.50,561.30V560.11M54.70,561.30V560.51M56.50,561.30V560.55M57.10,561.30V559.90M59.50,561.30V560.97M60.10,561.30V561.03M61.30,561.30V560.05M62.50,561.30V560.87M63.70,561.30V560.14M64.90,561.30V560.86M65.50,561.30V559.22M66.10,561.30V561.05M66.70,561.30V558.98M67.90,561.30V559.57M68.50,561.30V561.05M69.10,561.30V559.01M69.70,561.30V559.00M70.30,561.30V558.76M70.90,561.30V556.87M71.50,561.30V560.05M72.70,561.30V559.76M73.30,561.30V560.91M73.90,561.30V560.95M76.90,561.30V560.91M78.10,561.30V560.99M79.30,561.30V557.44M79.90,561.30V560.60M81.10,561.30V560.25M81.70,561.30V560.07M82.30,561.30V559.73M84.10,561.30V559.79M84.70,561.30V561.01M85.30,561.30V560.32M88.90,561.30V560.85M90.70,561.30V558.95M91.90,561.30V560.79M97.30,561.30V559.06M97.90,561.30V559.56M101.50,561.30V561.04M103.90,561.30V560.77M105.10,561.30V560.53M106.90,561.30V560.15M110.50,561.30V560.74M111.10,561.30V559.20M111.70,561.30V558.94M112.30,561.30V558.88M112.90,561.30V560.35M113.50,561.30V560.93M114.70,561.30V559.89M115.90,561.30V559.94M117.10,561.30V558.96M117.70,561.30V560.82M118.90,561.30V560.27M119.50,561.30V558.91M120.10,561.30V560.73M120.70,561.30V557.62M123.70,561.30V560.50M124.30,561.30V560.12M125.50,561.30V560.15M126.10,561.30V560.89M126.70,561.30V560.60M127.90,561.30V556.77M128.50,561.30V559.45M129.10,561.30V560.21M129.70,561.30V559.10M130.30,561.30V559.87M130.90,561.30V560.66M131.50,561.30V560.45M132.70,561.30V560.80M134.50,561.30V559.83M135.70,561.30V556.50M136.90,561.30V559.67M137.50,561.30V559.33M138.10,561.30V558.85M139.30,561.30V560.76M141.10,561.30V561.02M141.70,561.30V560.02M142.30,561.30V560.51M142.90,561.30V560.80M143.50,561.30V557.28M145.30,561.30V560.35M145.90,561.30V560.82M146.50,561.30V559.94M147.10,561.30V561.02M148.30,561.30V558.19M149.50,561.30V560.88M150.70,561.30V557.68M151.90,561.30V559.75M153.10,561.30V560.94M154.90,561.30V560.92M155.50,561.30V560.53M156.70,561.30V559.04M157.30,561.30V560.37M159.70,561.30V560.95M160.30,561.30V558.84M160.90,561.30V559.60M162.10,561.30V556.71M162.70,561.30V558.52M163.30,561.30V559.60M165.10,561.30V559.88M165.70,561.30V555.91M168.70,561.30V558.64M169.90,561.30V552.07M171.10,561.30V559.74M172.30,561.30V555.59M174.10,561.30V560.17M174.70,561.30V559.60M175.30,561.30V560.25M176.50,561.30V560.79M177.10,561.30V560.73M177.70,561.30V560.66M178.90,561.30V560.13M179.50,561.30V560.72M180.10,561.30V558.04M181.30,561.30V559.40M181.90,561.30V560.02M182.50,561.30V559.92M183.70,561.30V560.57M184.30,561.30V560.47M185.50,561.30V559.17M186.10,561.30V560.45M186.70,561.30V560.68M187.30,561.30V560.68M189.10,561.30V559.69M189.70,561.30V560.64M190.30,561.30V556.36M191.50,561.30V560.74M193.30,561.30V561.02M194.50,561.30V560.41M195.10,561.30V559.09M195.70,561.30V559.19M199.30,561.30V560.80M199.90,561.30V560.82M200.50,561.30V558.97M201.10,561.30V560.48M201.70,561.30V558.17M202.30,561.30V560.76M204.10,561.30V559.73M205.30,561.30V560.84M205.90,561.30V560.15M207.10,561.30V557.43M207.70,561.30V559.87M208.90,561.30V557.85M211.30,561.30V560.86M213.70,561.30V557.61M216.10,561.30V561.03M217.30,561.30V560.64M218.50,561.30V559.51M219.10,561.30V560.98M221.50,561.30V560.50M222.10,561.30V560.25M224.50,561.30V560.79M225.10,561.30V560.77M225.70,561.30V557.64M226.30,561.30V560.65M226.90,561.30V558.01M228.70,561.30V560.63M229.90,561.30V560.53M230.50,561.30V560.94M231.10,561.30V559.79M231.70,561.30V559.28M232.30,561.30V560.22M232.90,561.30V558.95M234.70,561.30V560.98M236.50,561.30V560.56M237.10,561.30V560.84M237.70,561.30V560.32M238.30,561.30V559.29M238.90,561.30V560.59M239.50,561.30V558.47M241.30,561.30V560.87M241.90,561.30V557.87M242.50,561.30V558.82M243.10,561.30V560.38M244.90,561.30V560.57M245.50,561.30V560.71M246.10,561.30V560.88M247.30,561.30V560.02M248.50,561.30V559.08M249.10,561.30V560.12M250.30,561.30V560.27M251.50,561.30V560.95M252.10,561.30V560.14M252.70,561.30V557.12M253.30,561.30V560.58M253.90,561.30V559.94M255.10,561.30V558.67M255.70,561.30V560.81M256.90,561.30V559.48M257.50,561.30V560.95M258.70,561.30V560.82M259.30,561.30V557.55M259.90,561.30V559.83M260.50,561.30V558.84M261.10,561.30V560.38M261.70,561.30V559.12M262.30,561.30V558.79M264.10,561.30V560.33M265.30,561.30V560.85M265.90,561.30V560.54M267.70,561.30V560.20M268.30,561.30V560.99M268.90,561.30V557.97M269.50,561.30V560.98M270.10,561.30V558.61M270.70,561.30V558.62M271.30,561.30V557.32M271.90,561.30V554.34M272.50,561.30V555.20M273.10,561.30V555.93M273.70,561.30V554.00M274.30,561.30V555.59M274.90,561.30V552.13M275.50,561.30V555.33M276.10,561.30V555.07M276.70,561.30V554.46M277.30,561.30V552.53M277.90,561.30V549.42M278.50,561.30V555.28M279.10,561.30V553.05M279.70,561.30V553.53M280.30,561.30V559.50M280.90,561.30V557.65M281.50,561.30V561.05M282.10,561.30V559.66M282.70,561.30V560.34M283.30,561.30V559.64M283.90,561.30V559.98M284.50,561.30V560.99M285.10,561.30V559.94M286.30,561.30V560.27M286.90,561.30V560.80M287.50,561.30V556.07M288.70,561.30V557.27M289.30,561.30V558.12M289.90,561.30V556.85M291.10,561.30V560.64M291.70,561.30V558.63" stroke="#9b9b9b" stroke-width="0.7" fill="none"/>
<line x1="22.90" y1="561.60" x2="293.00" y2="561.60" stroke="#999" stroke-width="0.7" />
<path d="M24.10,582.20V580.79M24.70,582.20V574.89M25.30,582.20V581.33M25.90,582.20V580.99M26.50,582.20V578.91M27.10,582.20V581.32M28.30,582.20V579.02M29.50,582.20V580.18M30.10,582.20V579.96M31.30,582.20V580.76M31.90,582.20V580.22M32.50,582.20V580.86M33.10,582.20V578.55M34.30,582.20V581.27M34.90,582.20V576.52M35.50,582.20V575.98M36.10,582.20V579.85M36.70,582.20V576.66M37.30,582.20V580.67M37.90,582.20V580.97M40.30,582.20V580.55M41.50,582.20V578.03M42.10,582.20V578.72M42.70,582.20V576.48M43.30,582.20V580.96M44.50,582.20V579.52M45.10,582.20V580.88M45.70,582.20V581.21M46.30,582.20V577.84M46.90,582.20V580.23M47.50,582.20V581.26M48.10,582.20V581.05M48.70,582.20V579.83M49.30,582.20V580.01M49.90,582.20V581.09M51.10,582.20V574.64M52.30,582.20V580.37M53.50,582.20V579.73M54.10,582.20V579.80M55.90,582.20V579.60M56.50,582.20V581.14M57.70,582.20V581.30M58.30,582.20V579.02M58.90,582.20V580.33M59.50,582.20V580.59M60.10,582.20V581.08M60.70,582.20V574.94M62.50,582.20V581.37M63.10,582.20V579.83M63.70,582.20V580.65M64.30,582.20V578.13M65.50,582.20V579.52M66.10,582.20V579.93M66.70,582.20V579.18M67.30,582.20V577.88M67.90,582.20V578.59M68.50,582.20V580.64M69.10,582.20V580.83M69.70,582.20V580.79M70.30,582.20V579.97M70.90,582.20V581.20M72.10,582.20V578.67M72.70,582.20V580.90M73.30,582.20V575.08M73.90,582.20V579.90M75.10,582.20V574.55M75.70,582.20V580.62M76.30,582.20V581.35M76.90,582.20V580.20M77.50,582.20V581.13M78.10,582.20V575.19M78.70,582.20V579.20M79.30,582.20V578.28M79.90,582.20V576.22M80.50,582.20V579.83M81.70,582.20V581.28M82.30,582.20V581.06M82.90,582.20V580.07M83.50,582.20V580.95M84.10,582.20V580.63M84.70,582.20V581.22M85.30,582.20V580.90M85.90,582.20V580.77M86.50,582.20V577.97M87.10,582.20V581.08M87.70,582.20V577.79M88.30,582.20V580.80M88.90,582.20V578.10M89.50,582.20V579.64M91.30,582.20V580.64M91.90,582.20V578.63M94.30,582.20V580.98M94.90,582.20V577.94M95.50,582.20V579.25M96.10,582.20V579.56M96.70,582.20V581.33M97.30,582.20V579.96M97.90,582.20V580.42M98.50,582.20V580.94M99.10,582.20V578.11M99.70,582.20V580.28M100.30,582.20V579.64M100.90,582.20V576.50M101.50,582.20V580.61M102.10,582.20V574.76M102.70,582.20V580.69M103.30,582.20V580.47M103.90,582.20V574.13M105.10,582.20V578.44M105.70,582.20V580.49M106.90,582.20V580.67M107.50,582.20V579.92M108.10,582.20V577.79M108.70,582.20V580.06M109.30,582.20V573.19M109.90,582.20V579.79M110.50,582.20V579.92M111.10,582.20V578.96M111.70,582.20V578.47M112.30,582.20V581.29M112.90,582.20V581.12M113.50,582.20V578.84M114.70,582.20V572.98M115.30,582.20V577.76M115.90,582.20V579.77M117.70,582.20V580.39M118.30,582.20V580.68M119.50,582.20V581.16M120.10,582.20V578.44M121.30,582.20V578.77M121.90,582.20V580.44M123.10,582.20V581.31M123.70,582.20V581.31M124.30,582.20V580.63M125.50,582.20V580.06M126.10,582.20V580.98M126.70,582.20V579.52M127.30,582.20V580.37M128.50,582.20V581.05M129.10,582.20V579.62M129.70,582.20V580.52M130.30,582.20V574.95M130.90,582.20V579.50M131.50,582.20V577.75M132.10,582.20V581.29M133.30,582.20V581.21M133.90,582.20V580.93M134.50,582.20V580.73M135.10,582.20V576.28M135.70,582.20V579.56M136.30,582.20V581.33M136.90,582.20V581.28M138.10,582.20V580.65M139.30,582.20V581.34M139.90,582.20V581.07M140.50,582.20V580.36M141.10,582.20V580.15M141.70,582.20V581.08M142.30,582.20V580.87M142.90,582.20V580.06M143.50,582.20V578.69M144.10,582.20V573.47M144.70,582.20V580.18M147.10,582.20V580.17M147.70,582.20V578.65M148.30,582.20V577.89M148.90,582.20V577.01M150.70,582.20V581.22M151.30,582.20V576.23M151.90,582.20V580.42M152.50,582.20V577.91M153.10,582.20V573.30M153.70,582.20V579.56M154.30,582.20V580.41M154.90,582.20V580.87M155.50,582.20V581.38M156.10,582.20V580.25M156.70,582.20V577.52M157.30,582.20V580.31M157.90,582.20V576.67M159.10,582.20V578.25M159.70,582.20V580.83M160.90,582.20V575.57M161.50,582.20V577.69M162.10,582.20V576.98M162.70,582.20V581.08M163.30,582.20V578.62M163.90,582.20V580.87M164.50,582.20V578.86M165.10,582.20V580.58M165.70,582.20V580.80M166.30,582.20V580.43M166.90,582.20V580.65M167.50,582.20V579.88M168.10,582.20V575.65M168.70,582.20V579.77M169.90,582.20V579.94M170.50,582.20V581.14M171.10,582.20V580.96M171.70,582.20V575.78M172.30,582.20V578.53M173.50,582.20V579.91M174.10,582.20V579.63M174.70,582.20V581.09M175.30,582.20V578.69M175.90,582.20V580.03M176.50,582.20V581.11M177.70,582.20V579.33M178.30,582.20V576.32M178.90,582.20V579.72M180.10,582.20V579.99M180.70,582.20V579.05M181.30,582.20V580.76M181.90,582.20V576.47M183.10,582.20V575.36M184.30,582.20V581.02M184.90,582.20V575.00M185.50,582.20V580.36M186.10,582.20V579.25M186.70,582.20V580.96M187.30,582.20V580.23M187.90,582.20V576.91M188.50,582.20V577.64M189.10,582.20V580.74M189.70,582.20V580.48M190.30,582.20V579.87M190.90,582.20V579.66M191.50,582.20V581.00M192.10,582.20V579.30M192.70,582.20V581.19M193.30,582.20V580.55M193.90,582.20V581.15M195.10,582.20V579.64M195.70,582.20V579.99M196.30,582.20V579.05M196.90,582.20V579.46M198.70,582.20V580.86M199.30,582.20V580.23M199.90,582.20V581.34M200.50,582.20V577.88M201.10,582.20V578.78M201.70,582.20V580.22M202.30,582.20V578.95M202.90,582.20V579.62M203.50,582.20V581.31M204.70,582.20V575.74M205.30,582.20V578.86M205.90,582.20V578.98M206.50,582.20V580.15M207.70,582.20V580.33M208.30,582.20V581.29M209.50,582.20V581.32M210.10,582.20V581.31M210.70,582.20V579.04M211.30,582.20V580.91M212.50,582.20V581.35M213.10,582.20V579.90M213.70,582.20V581.05M214.30,582.20V572.22M214.90,582.20V579.36M215.50,582.20V581.19M216.10,582.20V581.08M216.70,582.20V578.55M217.90,582.20V581.02M218.50,582.20V579.37M219.10,582.20V581.30M219.70,582.20V576.75M220.30,582.20V580.36M220.90,582.20V579.95M221.50,582.20V581.13M222.10,582.20V580.02M223.30,582.20V580.21M223.90,582.20V580.48M224.50,582.20V581.28M225.10,582.20V580.67M226.30,582.20V581.06M228.10,582.20V580.72M228.70,582.20V579.15M229.90,582.20V579.49M231.10,582.20V580.79M231.70,582.20V572.20M232.30,582.20V578.36M232.90,582.20V578.10M233.50,582.20V579.01M234.10,582.20V577.32M234.70,582.20V579.04M235.30,582.20V580.84M235.90,582.20V580.81M236.50,582.20V581.25M238.30,582.20V581.29M238.90,582.20V577.54M240.10,582.20V578.83M240.70,582.20V581.05M241.90,582.20V580.87M242.50,582.20V581.35M243.10,582.20V581.10M243.70,582.20V580.49M244.30,582.20V578.00M244.90,582.20V579.56M246.10,582.20V578.69M246.70,582.20V579.46M247.30,582.20V581.27M247.90,582.20V579.78M249.10,582.20V581.18M249.70,582.20V580.29M250.30,582.20V580.71M250.90,582.20V579.22M252.10,582.20V573.98M253.30,582.20V581.36M253.90,582.20V578.15M255.10,582.20V581.35M255.70,582.20V577.79M256.90,582.20V579.99M257.50,582.20V573.12M258.10,582.20V581.02M258.70,582.20V581.34M259.90,582.20V580.39M261.10,582.20V579.72M261.70,582.20V576.09M263.50,582.20V580.32M264.10,582.20V574.91M265.30,582.20V575.38M265.90,582.20V580.93M266.50,582.20V579.48M267.10,582.20V576.38M267.70,582.20V577.15M268.30,582.20V581.26M268.90,582.20V574.98M269.50,582.20V578.08M270.10,582.20V578.61M270.70,582.20V579.34M271.30,582.20V580.95M272.50,582.20V579.45M273.10,582.20V575.07M273.70,582.20V576.25M274.30,582.20V574.41M274.90,582.20V575.48M275.50,582.20V579.72M276.10,582.20V581.50M276.70,582.20V580.25M277.30,582.20V580.67M277.90,582.20V580.29M278.50,582.20V578.27M279.10,582.20V580.42M279.70,582.20V581.36M280.30,582.20V580.59M280.90,582.20V581.37M281.50,582.20V580.57M282.10,582.20V581.06M283.30,582.20V580.86M283.90,582.20V578.45M284.50,582.20V581.53M285.10,582.20V581.47M286.30,582.20V580.87M286.90,582.20V579.74M288.10,582.20V581.06M288.70,582.20V581.22M289.30,582.20V580.25M289.90,582.20V576.86M290.50,582.20V581.50M291.10,582.20V581.15M291.70,582.20V581.54M292.30,582.20V580.15M292.90,582.20V580.65" stroke="#d0033a" stroke-width="0.7" fill="none"/>
<line x1="14.20" y1="583.10" x2="293.00" y2="583.10" stroke="#aaaaaa" stroke-width="1.7" />
<path d="M22.90,602.30V600.95M24.10,602.30V601.52M24.70,602.30V601.42M25.30,602.30V599.36M25.90,602.30V601.85M27.10,602.30V600.99M28.90,602.30V601.93M30.70,602.30V601.76M31.30,602.30V601.79M31.90,602.30V601.88M32.50,602.30V600.93M33.10,602.30V601.44M34.90,602.30V601.96M35.50,602.30V600.90M36.10,602.30V601.81M36.70,602.30V601.41M37.30,602.30V601.87M37.90,602.30V601.67M38.50,602.30V601.45M39.70,602.30V601.39M40.90,602.30V601.27M42.70,602.30V599.86M43.30,602.30V601.50M43.90,602.30V601.83M44.50,602.30V601.98M45.10,602.30V601.74M45.70,602.30V601.40M46.30,602.30V601.79M47.50,602.30V601.99M49.90,602.30V600.21M50.50,602.30V601.95M51.10,602.30V601.73M52.30,602.30V601.94M54.10,602.30V601.40M54.70,602.30V601.05M55.30,602.30V601.90M55.90,602.30V601.95M56.50,602.30V601.30M58.30,602.30V601.78M58.90,602.30V601.77M59.50,602.30V600.45M60.10,602.30V601.96M60.70,602.30V601.46M61.30,602.30V601.71M61.90,602.30V601.49M63.10,602.30V601.17M63.70,602.30V601.91M64.30,602.30V601.93M65.50,602.30V601.17M66.10,602.30V601.55M66.70,602.30V601.57M67.30,602.30V600.71M67.90,602.30V601.28M68.50,602.30V601.45M69.10,602.30V601.07M69.70,602.30V600.00M70.30,602.30V600.83M70.90,602.30V600.64M71.50,602.30V600.86M72.10,602.30V601.41M72.70,602.30V601.19M73.90,602.30V601.15M74.50,602.30V601.93M75.10,602.30V601.82M75.70,602.30V601.96M76.30,602.30V601.79M77.50,602.30V600.93M78.70,602.30V601.77M79.30,602.30V601.53M80.50,602.30V600.73M81.10,602.30V601.91M82.30,602.30V601.91M84.10,602.30V601.72M84.70,602.30V601.59M85.30,602.30V600.16M85.90,602.30V599.32M86.50,602.30V598.87M87.10,602.30V599.74M87.70,602.30V599.68M88.30,602.30V601.27M90.10,602.30V600.30M91.30,602.30V600.56M91.90,602.30V601.83M92.50,602.30V601.86M93.10,602.30V601.19M94.30,602.30V601.70M94.90,602.30V601.69M95.50,602.30V601.44M96.10,602.30V601.70M96.70,602.30V601.90M97.90,602.30V601.77M98.50,602.30V601.22M99.10,602.30V601.36M100.90,602.30V601.38M102.10,602.30V601.67M102.70,602.30V601.90M103.30,602.30V601.83M106.30,602.30V601.67M106.90,602.30V601.96M108.10,602.30V601.97M109.30,602.30V600.21M109.90,602.30V600.85M110.50,602.30V601.47M111.70,602.30V600.31M113.50,602.30V600.80M115.30,602.30V601.90M115.90,602.30V601.11M116.50,602.30V601.34M117.70,602.30V601.97M118.90,602.30V601.60M120.10,602.30V601.00M120.70,602.30V600.83M121.30,602.30V601.80M121.90,602.30V600.81M122.50,602.30V601.45M123.10,602.30V600.32M123.70,602.30V601.35M124.90,602.30V601.69M125.50,602.30V601.97M126.10,602.30V601.81M129.70,602.30V601.93M132.10,602.30V601.08M132.70,602.30V601.77M133.30,602.30V601.88M135.70,602.30V601.15M136.30,602.30V601.92M136.90,602.30V601.19M138.10,602.30V601.42M138.70,602.30V601.77M139.30,602.30V601.18M139.90,602.30V599.51M140.50,602.30V600.29M141.10,602.30V598.40M141.70,602.30V599.04M142.30,602.30V599.03M142.90,602.30V598.37M143.50,602.30V598.77M144.10,602.30V599.78M144.70,602.30V599.69M145.30,602.30V601.28M145.90,602.30V601.72M146.50,602.30V601.58M147.10,602.30V600.73M147.70,602.30V601.71M148.30,602.30V601.84M150.70,602.30V601.08M151.30,602.30V601.93M152.50,602.30V601.83M154.90,602.30V601.24M155.50,602.30V600.90M156.70,602.30V600.98M157.90,602.30V601.00M159.10,602.30V601.13M159.70,602.30V601.61M160.90,602.30V601.54M161.50,602.30V600.50M162.10,602.30V601.40M164.50,602.30V601.05M165.70,602.30V601.49M166.30,602.30V601.73M166.90,602.30V601.34M167.50,602.30V601.53M169.90,602.30V601.37M171.10,602.30V601.92M172.90,602.30V601.86M173.50,602.30V601.60M174.10,602.30V601.40M174.70,602.30V601.55M175.30,602.30V601.62M175.90,602.30V601.69M177.10,602.30V601.77M177.70,602.30V601.78M178.30,602.30V601.51M178.90,602.30V601.34M179.50,602.30V601.87M180.10,602.30V601.86M181.90,602.30V601.73M183.10,602.30V600.94M183.70,602.30V601.87M185.50,602.30V601.96M186.70,602.30V600.97M187.30,602.30V601.53M189.70,602.30V601.13M190.30,602.30V601.75M190.90,602.30V601.83M192.70,602.30V600.80M193.30,602.30V601.89M195.10,602.30V601.15M196.30,602.30V601.51M197.50,602.30V601.97M198.10,602.30V601.77M198.70,602.30V601.93M199.30,602.30V601.23M199.90,602.30V601.66M200.50,602.30V600.79M202.90,602.30V601.80M203.50,602.30V601.84M204.10,602.30V601.57M204.70,602.30V600.24M205.30,602.30V601.93M205.90,602.30V601.43M206.50,602.30V600.82M207.70,602.30V601.66M208.30,602.30V601.40M209.50,602.30V601.48M210.10,602.30V601.58M210.70,602.30V601.75M212.50,602.30V601.63M213.10,602.30V601.56M214.30,602.30V601.86M214.90,602.30V601.23M216.10,602.30V601.62M217.30,602.30V601.82M217.90,602.30V600.07M220.30,602.30V601.90M220.90,602.30V601.94M221.50,602.30V601.64M223.30,602.30V601.87M225.10,602.30V601.46M226.90,602.30V601.44M228.10,602.30V601.88M228.70,602.30V601.50M229.30,602.30V601.62M230.50,602.30V601.24M231.10,602.30V600.66M231.70,602.30V601.96M232.30,602.30V601.79M233.50,602.30V601.78M235.30,602.30V601.62M235.90,602.30V601.89M236.50,602.30V601.78M237.10,602.30V600.68M237.70,602.30V601.99M238.30,602.30V601.99M238.90,602.30V601.69M239.50,602.30V601.44M241.30,602.30V599.72M242.50,602.30V601.90M243.10,602.30V601.69M245.50,602.30V601.93M249.10,602.30V601.99M249.70,602.30V601.88M250.30,602.30V599.92M252.10,602.30V600.93M253.90,602.30V601.85M254.50,602.30V601.67M255.70,602.30V601.85M256.30,602.30V601.69M256.90,602.30V601.87M257.50,602.30V599.64M258.70,602.30V601.41M259.30,602.30V601.11M260.50,602.30V601.74M261.10,602.30V601.94M261.70,602.30V601.93M262.90,602.30V600.61M263.50,602.30V601.36M264.10,602.30V598.17M264.70,602.30V596.42M265.30,602.30V594.99M265.90,602.30V596.53M266.50,602.30V600.14M267.10,602.30V601.73M267.70,602.30V601.44M268.30,602.30V601.46M268.90,602.30V601.17M270.10,602.30V601.29M270.70,602.30V601.89M271.90,602.30V600.93M272.50,602.30V601.81M273.70,602.30V601.78M275.50,602.30V600.98M276.10,602.30V599.86M276.70,602.30V598.80M277.30,602.30V599.86M277.90,602.30V601.47M278.50,602.30V601.67M279.10,602.30V601.19M280.30,602.30V601.48M281.50,602.30V601.59M282.10,602.30V599.90M282.70,602.30V599.30M283.30,602.30V600.21M283.90,602.30V600.31M284.50,602.30V601.83M285.70,602.30V600.78M286.90,602.30V601.78M288.10,602.30V601.77M289.30,602.30V601.89M289.90,602.30V601.97M290.50,602.30V601.84M291.10,602.30V600.57M291.70,602.30V601.69M292.90,602.30V601.99" stroke="#9b9b9b" stroke-width="0.7" fill="none"/>
<line x1="22.90" y1="602.60" x2="293.00" y2="602.60" stroke="#999" stroke-width="0.7" />
<path d="M22.90,622.80V621.88M23.50,622.80V621.46M24.70,622.80V621.92M25.30,622.80V621.08M25.90,622.80V620.77M26.50,622.80V622.02M27.70,622.80V622.06M28.30,622.80V622.16M29.50,622.80V622.10M30.10,622.80V620.83M30.70,622.80V622.04M31.30,622.80V622.02M31.90,622.80V622.14M32.50,622.80V621.00M33.10,622.80V621.89M33.70,622.80V620.48M34.30,622.80V621.99M34.90,622.80V621.89M36.10,622.80V620.46M36.70,622.80V621.96M37.30,622.80V621.26M37.90,622.80V621.20M38.50,622.80V622.08M39.10,622.80V621.67M39.70,622.80V621.71M40.90,622.80V620.57M41.50,622.80V621.84M42.10,622.80V621.18M42.70,622.80V621.62M43.90,622.80V622.06M45.10,622.80V621.69M45.70,622.80V621.76M46.30,622.80V621.74M46.90,622.80V622.04M47.50,622.80V621.73M48.10,622.80V619.05M49.30,622.80V621.31M50.50,622.80V621.97M51.10,622.80V620.87M51.70,622.80V621.13M53.50,622.80V622.00M54.10,622.80V621.58M55.30,622.80V621.41M55.90,622.80V622.00M56.50,622.80V621.96M57.10,622.80V621.96M57.70,622.80V622.13M58.30,622.80V621.87M58.90,622.80V622.06M59.50,622.80V621.52M60.10,622.80V621.02M61.30,622.80V621.80M61.90,622.80V622.18M63.10,622.80V620.77M63.70,622.80V621.98M64.30,622.80V621.76M66.70,622.80V621.81M67.90,622.80V621.32M68.50,622.80V622.10M69.10,622.80V621.80M69.70,622.80V621.75M70.30,622.80V621.80M70.90,622.80V618.68M71.50,622.80V621.46M72.10,622.80V621.70M73.90,622.80V621.90M74.50,622.80V621.57M75.70,622.80V621.56M76.30,622.80V621.88M76.90,622.80V621.63M78.10,622.80V620.86M78.70,622.80V621.34M79.30,622.80V621.37M79.90,622.80V622.07M82.90,622.80V621.75M83.50,622.80V621.26M84.10,622.80V621.85M84.70,622.80V620.21M85.30,622.80V618.95M85.90,622.80V618.43M86.50,622.80V617.84M87.10,622.80V619.14M87.70,622.80V619.35M88.30,622.80V620.10M88.90,622.80V620.83M89.50,622.80V620.80M90.10,622.80V621.95M90.70,622.80V620.45M91.30,622.80V621.19M91.90,622.80V621.89M92.50,622.80V621.87M93.10,622.80V621.49M93.70,622.80V619.90M94.30,622.80V621.88M94.90,622.80V621.91M95.50,622.80V621.65M96.10,622.80V620.83M97.90,622.80V621.75M99.10,622.80V619.32M99.70,622.80V620.99M100.30,622.80V621.06M100.90,622.80V622.16M101.50,622.80V620.52M102.70,622.80V621.06M103.30,622.80V620.70M104.50,622.80V621.16M105.10,622.80V621.89M105.70,622.80V621.95M106.30,622.80V622.09M106.90,622.80V621.89M108.10,622.80V622.12M109.90,622.80V621.93M110.50,622.80V621.80M111.10,622.80V621.56M111.70,622.80V622.29M112.30,622.80V621.01M112.90,622.80V621.92M113.50,622.80V620.42M114.10,622.80V620.34M114.70,622.80V621.18M115.30,622.80V619.81M115.90,622.80V618.88M116.50,622.80V619.81M117.10,622.80V620.38M117.70,622.80V618.90M118.30,622.80V619.43M118.90,622.80V618.88M119.50,622.80V619.72M120.10,622.80V617.76M120.70,622.80V620.32M121.30,622.80V620.32M121.90,622.80V620.71M122.50,622.80V620.49M123.10,622.80V621.23M123.70,622.80V620.39M124.30,622.80V620.70M124.90,622.80V619.78M125.50,622.80V621.90M127.30,622.80V622.02M128.50,622.80V621.75M129.70,622.80V621.77M130.90,622.80V622.02M131.50,622.80V621.60M132.10,622.80V622.08M133.30,622.80V622.02M133.90,622.80V621.35M134.50,622.80V620.77M135.10,622.80V620.66M135.70,622.80V621.19M136.30,622.80V619.31M136.90,622.80V618.86M137.50,622.80V618.59M138.10,622.80V619.64M138.70,622.80V618.75M139.30,622.80V618.84M139.90,622.80V617.75M140.50,622.80V617.87M141.10,622.80V617.95M141.70,622.80V616.18M142.30,622.80V616.52M142.90,622.80V615.91M143.50,622.80V614.48M144.10,622.80V618.04M144.70,622.80V620.93M145.30,622.80V620.89M145.90,622.80V618.78M146.50,622.80V620.22M147.10,622.80V621.70M147.70,622.80V621.22M148.30,622.80V621.98M148.90,622.80V621.96M150.70,622.80V622.14M151.30,622.80V621.61M152.50,622.80V622.12M153.70,622.80V620.35M154.30,622.80V621.57M154.90,622.80V621.45M155.50,622.80V622.17M156.10,622.80V622.12M156.70,622.80V621.96M157.30,622.80V620.52M157.90,622.80V622.04M159.10,622.80V621.94M159.70,622.80V621.96M160.90,622.80V621.38M161.50,622.80V621.72M162.10,622.80V622.07M162.70,622.80V622.06M163.30,622.80V620.69M163.90,622.80V622.10M164.50,622.80V621.97M165.10,622.80V620.71M166.30,622.80V621.98M167.50,622.80V622.15M169.30,622.80V621.38M169.90,622.80V621.97M170.50,622.80V621.34M171.70,622.80V622.10M173.50,622.80V621.92M174.10,622.80V621.83M175.90,622.80V620.79M176.50,622.80V621.95M177.10,622.80V620.86M177.70,622.80V622.00M178.30,622.80V618.65M178.90,622.80V622.18M179.50,622.80V622.14M180.10,622.80V620.93M180.70,622.80V619.58M181.30,622.80V622.00M181.90,622.80V621.93M182.50,622.80V620.39M183.10,622.80V621.92M183.70,622.80V621.48M184.90,622.80V621.89M187.90,622.80V619.84M188.50,622.80V621.27M189.10,622.80V621.88M189.70,622.80V622.03M190.30,622.80V621.56M190.90,622.80V620.97M191.50,622.80V621.40M192.10,622.80V621.73M192.70,622.80V621.64M193.30,622.80V621.93M193.90,622.80V621.27M194.50,622.80V619.77M195.10,622.80V621.55M195.70,622.80V622.00M196.30,622.80V621.29M196.90,622.80V621.35M197.50,622.80V622.18M199.30,622.80V621.17M199.90,622.80V621.53M200.50,622.80V621.72M201.10,622.80V621.69M201.70,622.80V621.35M202.30,622.80V621.03M202.90,622.80V622.18M203.50,622.80V621.78M204.10,622.80V622.18M206.50,622.80V622.17M207.10,622.80V622.12M207.70,622.80V621.17M208.30,622.80V620.98M208.90,622.80V621.84M209.50,622.80V621.57M211.30,622.80V620.89M211.90,622.80V622.15M212.50,622.80V621.91M213.70,622.80V622.17M214.30,622.80V621.96M214.90,622.80V622.06M215.50,622.80V621.81M216.10,622.80V621.43M216.70,622.80V621.61M217.30,622.80V621.86M217.90,622.80V622.10M218.50,622.80V621.98M219.10,622.80V621.93M220.30,622.80V622.07M222.10,622.80V622.03M223.90,622.80V621.39M224.50,622.80V621.84M225.10,622.80V622.18M225.70,622.80V621.45M226.90,622.80V621.70M227.50,622.80V621.23M229.30,622.80V622.19M231.10,622.80V621.78M231.70,622.80V621.79M232.30,622.80V621.55M232.90,622.80V621.77M233.50,622.80V620.79M234.10,622.80V621.41M234.70,622.80V621.85M235.90,622.80V620.84M236.50,622.80V620.58M237.70,622.80V620.58M238.30,622.80V621.86M238.90,622.80V622.16M239.50,622.80V621.95M240.10,622.80V621.57M240.70,622.80V622.16M241.90,622.80V621.46M242.50,622.80V621.84M244.30,622.80V622.01M244.90,622.80V620.65M245.50,622.80V621.93M246.10,622.80V621.39M246.70,622.80V622.00M247.30,622.80V621.95M247.90,622.80V621.71M249.10,622.80V621.58M249.70,622.80V622.11M252.10,622.80V622.09M253.90,622.80V621.22M255.10,622.80V621.21M256.30,622.80V621.46M256.90,622.80V621.30M257.50,622.80V622.06M258.10,622.80V622.13M258.70,622.80V621.66M259.30,622.80V622.11M259.90,622.80V621.02M260.50,622.80V621.67M261.10,622.80V621.69M261.70,622.80V621.65M262.30,622.80V621.50M262.90,622.80V622.12M263.50,622.80V622.00M264.10,622.80V620.60M264.70,622.80V614.60M265.30,622.80V606.67M265.90,622.80V604.58M266.50,622.80V611.02M267.10,622.80V616.30M267.70,622.80V621.85M268.30,622.80V621.64M268.90,622.80V622.13M269.50,622.80V621.93M271.30,622.80V621.84M271.90,622.80V621.89M272.50,622.80V621.58M273.70,622.80V618.30M274.30,622.80V618.30M274.90,622.80V618.30M275.50,622.80V614.28M276.10,622.80V612.82M276.70,622.80V614.01M277.30,622.80V617.54M277.90,622.80V618.30M278.50,622.80V618.30M279.10,622.80V618.30M279.70,622.80V618.30M280.30,622.80V618.30M280.90,622.80V616.25M281.50,622.80V613.60M282.10,622.80V612.65M282.70,622.80V615.26M283.30,622.80V618.30M283.90,622.80V618.30M284.50,622.80V618.30M285.10,622.80V621.33M285.70,622.80V621.39M286.30,622.80V620.04M287.50,622.80V621.36M288.10,622.80V621.71M288.70,622.80V621.12M289.30,622.80V621.04M289.90,622.80V621.98M290.50,622.80V621.70M291.10,622.80V621.68M291.70,622.80V620.85M292.30,622.80V621.80M292.90,622.80V620.68" stroke="#d0033a" stroke-width="0.7" fill="none"/>
<line x1="14.20" y1="623.70" x2="293.00" y2="623.70" stroke="#aaaaaa" stroke-width="1.7" />
<path d="M25.90,643.80V642.81M26.50,643.80V637.07M27.10,643.80V641.22M27.70,643.80V643.15M28.30,643.80V641.30M28.90,643.80V643.21M123.70,643.80V641.43M124.30,643.80V633.80M124.90,643.80V641.38M125.50,643.80V643.14M126.10,643.80V641.46M126.70,643.80V640.98M127.30,643.80V642.69M127.90,643.80V643.19M128.50,643.80V641.79M129.10,643.80V643.33M137.50,643.80V642.30M160.30,643.80V641.85M160.90,643.80V642.88M205.30,643.80V642.95M205.90,643.80V643.27M241.90,643.80V643.06M242.50,643.80V641.80M243.10,643.80V643.06" stroke="#9b9b9b" stroke-width="0.7" fill="none"/>
<line x1="22.90" y1="644.10" x2="293.00" y2="644.10" stroke="#999" stroke-width="0.7" />
<path d="M25.90,664.30V662.66M26.50,664.30V652.17M27.10,664.30V652.00M27.70,664.30V661.96M28.30,664.30V662.69M28.90,664.30V661.74M29.50,664.30V661.30M30.10,664.30V661.74M30.70,664.30V662.72M31.30,664.30V663.59M95.50,664.30V662.90M96.10,664.30V661.35M96.70,664.30V662.27M97.30,664.30V663.85M123.10,664.30V664.00M123.70,664.30V658.36M124.30,664.30V648.03M124.90,664.30V657.43M125.50,664.30V661.43M126.10,664.30V659.41M126.70,664.30V657.57M127.30,664.30V657.57M127.90,664.30V659.39M128.50,664.30V661.21M129.10,664.30V660.43M129.70,664.30V660.34M130.30,664.30V663.16M137.50,664.30V661.48M138.10,664.30V663.67M159.70,664.30V663.88M160.30,664.30V660.30M160.90,664.30V663.88M164.50,664.30V662.30M168.10,664.30V663.67M168.70,664.30V661.48M201.10,664.30V664.04M201.70,664.30V663.69M202.30,664.30V663.25M202.90,664.30V663.01M203.50,664.30V663.14M204.10,664.30V663.54M204.70,664.30V663.94M240.70,664.30V663.45M241.30,664.30V661.51M241.90,664.30V660.55M242.50,664.30V662.22M243.10,664.30V663.83" stroke="#dd1111" stroke-width="0.7" fill="none"/>
<line x1="14.20" y1="665.20" x2="293.00" y2="665.20" stroke="#aaaaaa" stroke-width="1.7" />
<text x="20.30" y="551.70" font-size="9.51" stroke="#9a9a9a" stroke-width="0.3" fill="#9a9a9a" text-anchor="middle" textLength="13.20" lengthAdjust="spacingAndGlyphs" transform="rotate(-90 20.30 551.70)" >veh</text>
<text x="20.30" y="592.70" font-size="9.51" stroke="#9a9a9a" stroke-width="0.3" fill="#9a9a9a" text-anchor="middle" textLength="13.20" lengthAdjust="spacingAndGlyphs" transform="rotate(-90 20.30 592.70)" >veh</text>
<text x="20.30" y="634.00" font-size="9.51" stroke="#9a9a9a" stroke-width="0.3" fill="#9a9a9a" text-anchor="middle" textLength="13.20" lengthAdjust="spacingAndGlyphs" transform="rotate(-90 20.30 634.00)" >veh</text>
<text x="20.30" y="572.20" font-size="9.51" font-weight="bold" stroke="#d0033a" stroke-width="0.25" fill="#d0033a" text-anchor="middle" textLength="13.50" lengthAdjust="spacingAndGlyphs" transform="rotate(-90 20.30 572.20)" >CAF</text>
<text x="20.30" y="614.00" font-size="9.51" font-weight="bold" stroke="#d0033a" stroke-width="0.25" fill="#d0033a" text-anchor="middle" textLength="13.50" lengthAdjust="spacingAndGlyphs" transform="rotate(-90 20.30 614.00)" >CAF</text>
<text x="20.30" y="654.50" font-size="9.51" font-weight="bold" stroke="#d0033a" stroke-width="0.25" fill="#d0033a" text-anchor="middle" textLength="13.50" lengthAdjust="spacingAndGlyphs" transform="rotate(-90 20.30 654.50)" >CAF</text>
<text x="40.80" y="551.70" font-size="9.28" font-weight="bold" stroke="#111" stroke-width="0.25" textLength="65.50" lengthAdjust="spacingAndGlyphs" >H3K27me3 [0-14]</text>
<text x="40.80" y="593.00" font-size="9.28" font-weight="bold" stroke="#111" stroke-width="0.25" textLength="61.70" lengthAdjust="spacingAndGlyphs" >H3K27ac [0-130]</text>
<text x="40.80" y="633.00" font-size="9.28" font-weight="bold" stroke="#111" stroke-width="0.25" textLength="53.50" lengthAdjust="spacingAndGlyphs" >RNAseq [0-53]</text>
<path d="M273.7,565.0 L279.8,565.0 M274.8,565.0 Q276.8,561.8 278.8,565.0 Z" stroke="#111" stroke-width="1.1" fill="#111"/>
<path d="M281.2,565.0 L287.7,565.0 M282.4,565.0 Q284.4,561.8 286.4,565.0 Z" stroke="#111" stroke-width="1.1" fill="#111"/>
<path d="M272.1,605.0 L277.9,605.0 M273.0,605.0 Q275.0,601.8 277.0,605.0 Z" stroke="#111" stroke-width="1.1" fill="#111"/>
<path d="M280.2,605.0 L286.0,605.0 M281.1,605.0 Q283.1,601.8 285.1,605.0 Z" stroke="#111" stroke-width="1.1" fill="#111"/>
<rect x="258.4" y="537.0" width="35.5" height="130.8" fill="none" stroke="#111" stroke-width="1.6" stroke-dasharray="2.2,1.6"/>
<line x1="26.20" y1="673.50" x2="277.60" y2="673.50" stroke="#1c2a8a" stroke-width="1.0" />
<rect x="26.20" y="671.10" width="5.10" height="4.80" fill="#1c2a8a" />
<rect x="122.90" y="671.10" width="6.50" height="4.80" fill="#1c2a8a" />
<rect x="240.90" y="671.10" width="2.70" height="4.80" fill="#1c2a8a" />
<line x1="96.10" y1="670.30" x2="96.10" y2="676.70" stroke="#1c2a8a" stroke-width="0.9" />
<line x1="136.60" y1="670.30" x2="136.60" y2="676.70" stroke="#1c2a8a" stroke-width="0.9" />
<line x1="138.40" y1="670.30" x2="138.40" y2="676.70" stroke="#1c2a8a" stroke-width="0.9" />
<line x1="161.20" y1="670.30" x2="161.20" y2="676.70" stroke="#1c2a8a" stroke-width="0.9" />
<line x1="165.30" y1="670.30" x2="165.30" y2="676.70" stroke="#1c2a8a" stroke-width="0.9" />
<line x1="169.40" y1="670.30" x2="169.40" y2="676.70" stroke="#1c2a8a" stroke-width="0.9" />
<line x1="205.60" y1="670.30" x2="205.60" y2="676.70" stroke="#1c2a8a" stroke-width="0.9" />
<line x1="266.50" y1="670.30" x2="266.50" y2="676.70" stroke="#1c2a8a" stroke-width="0.9" />
<line x1="277.10" y1="670.30" x2="277.10" y2="676.70" stroke="#1c2a8a" stroke-width="0.9" />
<path d="M37.8,671.9 L36.5,673.5 L37.8,675.1 M51.0,671.9 L49.7,673.5 L51.0,675.1 M62.9,671.9 L61.6,673.5 L62.9,675.1 M75.0,671.9 L73.7,673.5 L75.0,675.1 M86.8,671.9 L85.5,673.5 L86.8,675.1 M104.8,671.9 L103.5,673.5 L104.8,675.1 M117.1,671.9 L115.8,673.5 L117.1,675.1 M145.7,671.9 L144.4,673.5 L145.7,675.1 M157.4,671.9 L156.1,673.5 L157.4,675.1 M177.9,671.9 L176.6,673.5 L177.9,675.1 M189.7,671.9 L188.4,673.5 L189.7,675.1 M201.3,671.9 L200.0,673.5 L201.3,675.1 M213.6,671.9 L212.3,673.5 L213.6,675.1 M225.3,671.9 L224.0,673.5 L225.3,675.1 M237.1,671.9 L235.8,673.5 L237.1,675.1 M251.4,671.9 L250.1,673.5 L251.4,675.1 M262.7,671.9 L261.4,673.5 L262.7,675.1 M273.5,671.9 L275.0,673.5 L273.5,675.1 " stroke="#1c2a8a" stroke-width="0.9" fill="none"/>
<text x="105.60" y="687.00" font-size="9.28" font-weight="bold" stroke="#111" stroke-width="0.25" textLength="24.70" lengthAdjust="spacingAndGlyphs" style="font-style:italic" >Nfatc1</text>
<text x="25.70" y="689.60" font-size="9.28" font-weight="bold" stroke="#111" stroke-width="0.25" textLength="20.30" lengthAdjust="spacingAndGlyphs" >20 kb</text>
<line x1="14.00" y1="692.90" x2="57.20" y2="692.90" stroke="#111" stroke-width="1.5" />
<text x="319.60" y="534.30" font-size="12.5" font-weight="bold" stroke="#111" stroke-width="0.25" textLength="7.80" lengthAdjust="spacingAndGlyphs" style="stroke-width:0.6">G</text>
<text x="391.30" y="547.30" font-size="9.05" font-weight="bold" stroke="#111" stroke-width="0.25" text-anchor="middle" textLength="39.00" lengthAdjust="spacingAndGlyphs" >ChIP-qPCR</text>
<text x="391.30" y="557.60" font-size="9.05" font-weight="bold" stroke="#111" stroke-width="0.25" text-anchor="middle" textLength="24.50" lengthAdjust="spacingAndGlyphs" style="font-style:italic" >Nfatc1</text>
<text x="349.90" y="658.10" font-size="8.6" stroke="#111" stroke-width="0.3" text-anchor="end" >0</text>
<line x1="352.00" y1="655.10" x2="353.60" y2="655.10" stroke="#222" stroke-width="0.9" />
<text x="349.90" y="641.08" font-size="8.6" stroke="#111" stroke-width="0.3" text-anchor="end" >1</text>
<line x1="352.00" y1="638.08" x2="353.60" y2="638.08" stroke="#222" stroke-width="0.9" />
<text x="349.90" y="624.06" font-size="8.6" stroke="#111" stroke-width="0.3" text-anchor="end" >2</text>
<line x1="352.00" y1="621.06" x2="353.60" y2="621.06" stroke="#222" stroke-width="0.9" />
<text x="349.90" y="607.04" font-size="8.6" stroke="#111" stroke-width="0.3" text-anchor="end" >3</text>
<line x1="352.00" y1="604.04" x2="353.60" y2="604.04" stroke="#222" stroke-width="0.9" />
<text x="349.90" y="590.02" font-size="8.6" stroke="#111" stroke-width="0.3" text-anchor="end" >4</text>
<line x1="352.00" y1="587.02" x2="353.60" y2="587.02" stroke="#222" stroke-width="0.9" />
<text x="349.90" y="573.00" font-size="8.6" stroke="#111" stroke-width="0.3" text-anchor="end" >5</text>
<line x1="352.00" y1="570.00" x2="353.60" y2="570.00" stroke="#222" stroke-width="0.9" />
<rect x="357.10" y="638.08" width="11.60" height="17.02" fill="#a6a6a6" stroke="#2a2a2a" stroke-width="0.9" />
<rect x="371.20" y="646.76" width="10.30" height="8.34" fill="#b00f0f" stroke="#2a2a2a" stroke-width="0.9" />
<rect x="395.20" y="638.08" width="11.40" height="17.02" fill="#a6a6a6" stroke="#2a2a2a" stroke-width="0.9" />
<rect x="409.30" y="604.21" width="10.40" height="50.89" fill="#b00f0f" stroke="#2a2a2a" stroke-width="0.9" />
<line x1="376.40" y1="646.76" x2="376.40" y2="643.87" stroke="#222" stroke-width="0.9" />
<line x1="374.20" y1="643.87" x2="378.60" y2="643.87" stroke="#222" stroke-width="0.9" />
<line x1="414.50" y1="604.21" x2="414.50" y2="589.40" stroke="#222" stroke-width="0.9" />
<line x1="412.50" y1="589.40" x2="416.50" y2="589.40" stroke="#222" stroke-width="0.9" />
<text x="376.40" y="641.50" font-size="8.5" font-weight="bold" stroke="#111" stroke-width="0.25" text-anchor="middle" >*</text>
<text x="414.60" y="588.30" font-size="8.5" font-weight="bold" stroke="#111" stroke-width="0.25" text-anchor="middle" >*</text>
<path d="M355,648.3 L368.5,648.3" stroke="#111" stroke-width="0.8" stroke-dasharray="2,1,0.6,1"/>
<path d="M371.5,648.3 L381.3,648.3" stroke="#111" stroke-width="1.1" stroke-dasharray="0.9,0.9"/>
<path d="M393.3,650.4 L406.6,650.4" stroke="#111" stroke-width="0.8" stroke-dasharray="2,1,0.6,1"/>
<path d="M408.6,650.4 L421,650.4" stroke="#111" stroke-width="1.1" stroke-dasharray="0.9,0.9"/>
<line x1="353.60" y1="569.60" x2="353.60" y2="655.10" stroke="#222" stroke-width="1.0" />
<line x1="353.60" y1="655.10" x2="429.40" y2="655.10" stroke="#222" stroke-width="1.0" />
<rect x="361.10" y="570.00" width="11.00" height="5.30" fill="#a6a6a6" stroke="#2a2a2a" stroke-width="0.9" />
<rect x="361.10" y="579.60" width="11.00" height="5.30" fill="#b00f0f" stroke="#2a2a2a" stroke-width="0.9" />
<text x="375.60" y="575.60" font-size="9.51" stroke="#111" stroke-width="0.3" textLength="12.80" lengthAdjust="spacingAndGlyphs" >veh</text>
<text x="375.60" y="585.20" font-size="9.51" stroke="#111" stroke-width="0.3" textLength="14.00" lengthAdjust="spacingAndGlyphs" >CAF</text>
<text x="333.80" y="610.20" font-size="9.51" font-weight="bold" stroke="#111" stroke-width="0.25" text-anchor="middle" textLength="76.30" lengthAdjust="spacingAndGlyphs" transform="rotate(-90 333.80 610.20)" >Relative occupancy</text>
<text x="386.50" y="662.50" font-size="9.05" font-weight="bold" stroke="#111" stroke-width="0.25" text-anchor="end" textLength="41.00" lengthAdjust="spacingAndGlyphs" transform="rotate(-45 386.50 662.50)" >H3K27me3</text>
<text x="421.80" y="662.00" font-size="9.05" font-weight="bold" stroke="#111" stroke-width="0.25" text-anchor="end" textLength="35.50" lengthAdjust="spacingAndGlyphs" transform="rotate(-45 421.80 662.00)" >H3K27ac</text>
<text x="451.40" y="534.30" font-size="12.5" font-weight="bold" stroke="#111" stroke-width="0.25" textLength="8.00" lengthAdjust="spacingAndGlyphs" style="stroke-width:0.6">H</text>
<text x="521.30" y="554.20" font-size="9.05" font-weight="bold" stroke="#111" stroke-width="0.25" text-anchor="middle" textLength="24.20" lengthAdjust="spacingAndGlyphs" style="font-style:italic" >Nfatc1</text>
<text x="487.60" y="658.20" font-size="8.6" stroke="#111" stroke-width="0.3" text-anchor="end" >0</text>
<line x1="488.30" y1="655.20" x2="489.90" y2="655.20" stroke="#222" stroke-width="0.9" />
<text x="487.60" y="639.60" font-size="8.6" stroke="#111" stroke-width="0.3" text-anchor="end" >1</text>
<line x1="488.30" y1="636.60" x2="489.90" y2="636.60" stroke="#222" stroke-width="0.9" />
<text x="487.60" y="621.00" font-size="8.6" stroke="#111" stroke-width="0.3" text-anchor="end" >2</text>
<line x1="488.30" y1="618.00" x2="489.90" y2="618.00" stroke="#222" stroke-width="0.9" />
<text x="487.60" y="602.40" font-size="8.6" stroke="#111" stroke-width="0.3" text-anchor="end" >3</text>
<line x1="488.30" y1="599.40" x2="489.90" y2="599.40" stroke="#222" stroke-width="0.9" />
<text x="487.60" y="583.80" font-size="8.6" stroke="#111" stroke-width="0.3" text-anchor="end" >4</text>
<line x1="488.30" y1="580.80" x2="489.90" y2="580.80" stroke="#222" stroke-width="0.9" />
<rect x="504.40" y="637.16" width="13.10" height="18.04" fill="#a6a6a6" stroke="#2a2a2a" stroke-width="0.9" />
<rect x="525.30" y="607.40" width="12.30" height="47.80" fill="#b00f0f" stroke="#2a2a2a" stroke-width="0.9" />
<line x1="511.00" y1="637.16" x2="511.00" y2="635.48" stroke="#222" stroke-width="0.9" />
<line x1="508.50" y1="635.48" x2="513.50" y2="635.48" stroke="#222" stroke-width="0.9" />
<line x1="531.40" y1="607.40" x2="531.40" y2="597.17" stroke="#222" stroke-width="0.9" />
<line x1="528.00" y1="597.17" x2="534.80" y2="597.17" stroke="#222" stroke-width="0.9" />
<text x="531.50" y="594.00" font-size="9.86" font-weight="bold" stroke="#111" stroke-width="0.25" text-anchor="middle" textLength="8.00" lengthAdjust="spacingAndGlyphs" >**</text>
<line x1="489.90" y1="580.30" x2="489.90" y2="655.20" stroke="#222" stroke-width="1.0" />
<line x1="489.90" y1="655.20" x2="551.70" y2="655.20" stroke="#222" stroke-width="1.0" />
<text x="473.30" y="617.00" font-size="9.51" font-weight="bold" stroke="#111" stroke-width="0.25" text-anchor="middle" textLength="106.00" lengthAdjust="spacingAndGlyphs" transform="rotate(-90 473.30 617.00)" >Relative mRNA expression</text>
<text x="518.00" y="664.50" font-size="9.05" font-weight="bold" stroke="#111" stroke-width="0.25" text-anchor="end" textLength="13.50" lengthAdjust="spacingAndGlyphs" transform="rotate(-45 518.00 664.50)" >veh</text>
<text x="538.50" y="663.50" font-size="9.05" font-weight="bold" stroke="#111" stroke-width="0.25" text-anchor="end" textLength="15.00" lengthAdjust="spacingAndGlyphs" transform="rotate(-45 538.50 663.50)" >CAF</text>
<text x="572.60" y="534.30" font-size="12.5" font-weight="bold" stroke="#111" stroke-width="0.25" textLength="3.40" lengthAdjust="spacingAndGlyphs" style="stroke-width:0.6">I</text>
<filter id="grain" x="0" y="0" width="1" height="1"><feTurbulence type="fractalNoise" baseFrequency="0.9" numOctaves="2" seed="3"/><feColorMatrix type="matrix" values="0 0 0 0 0  0 0 0 0 0  0 0 0 0 0  0 0 0 -0.9 0.55"/><feComposite in2="SourceGraphic" operator="in"/></filter>
<filter id="blur1"><feGaussianBlur stdDeviation="1.0"/></filter>
<filter id="blur2"><feGaussianBlur stdDeviation="0.6"/></filter>
<rect x="604.20" y="601.30" width="50.40" height="35.40" fill="#ececec" />
<rect x="604.20" y="601.30" width="50.40" height="35.40" fill="#ececec" filter="url(#grain)" opacity="0.35"/>
<g filter="url(#blur1)" opacity="0.55"><ellipse cx="615.5" cy="626.2" rx="8.5" ry="1.6" fill="#aaa"/><ellipse cx="641.5" cy="626.0" rx="10.5" ry="1.9" fill="#999"/><rect x="630" y="613" width="3" height="18" fill="#bbb"/><ellipse cx="615.5" cy="606.7" rx="1.6" ry="1.6" fill="#aaa"/><ellipse cx="641" cy="618" rx="9" ry="4" fill="#d5d5d5"/></g>
<rect x="604.20" y="601.30" width="50.40" height="35.40" fill="none" stroke="#444" stroke-width="1.0" />
<rect x="604.20" y="647.30" width="50.40" height="11.00" fill="#e2e2e2" />
<g filter="url(#blur2)"><path d="M606.5,650.4 Q615,649.6 624.2,650.6 L624.2,653.6 Q615,654.4 606.5,653.4 Z" fill="#151515"/><path d="M630.8,650.8 Q641,650.0 652.4,650.4 L652.4,653.8 Q641,655.0 630.8,654.2 Z" fill="#151515"/></g>
<rect x="604.20" y="647.30" width="50.40" height="11.00" fill="none" stroke="#444" stroke-width="1.0" />
<text x="615.20" y="598.60" font-size="9.74" font-weight="bold" stroke="#111" stroke-width="0.25" text-anchor="middle" textLength="14.00" lengthAdjust="spacingAndGlyphs" >veh</text>
<text x="642.00" y="598.60" font-size="9.74" font-weight="bold" stroke="#111" stroke-width="0.25" text-anchor="middle" textLength="15.20" lengthAdjust="spacingAndGlyphs" >CAF</text>
<text x="572.90" y="623.20" font-size="8.58" font-weight="bold" stroke="#111" stroke-width="0.25" textLength="27.80" lengthAdjust="spacingAndGlyphs" >NFATC1</text>
<text x="615.80" y="644.60" font-size="9.74" font-weight="bold" stroke="#111" stroke-width="0.25" text-anchor="middle" textLength="11.40" lengthAdjust="spacingAndGlyphs" >1.0</text>
<text x="642.20" y="644.60" font-size="9.74" font-weight="bold" stroke="#111" stroke-width="0.25" text-anchor="middle" textLength="11.30" lengthAdjust="spacingAndGlyphs" >2.0</text>
<text x="578.00" y="656.20" font-size="8.82" font-weight="bold" stroke="#111" stroke-width="0.25" textLength="22.50" lengthAdjust="spacingAndGlyphs" >ACTIN</text>
<line x1="654.80" y1="623.00" x2="657.60" y2="623.00" stroke="#333" stroke-width="0.9" />
<line x1="654.80" y1="647.60" x2="657.60" y2="647.60" stroke="#333" stroke-width="0.9" />
<text x="660.90" y="625.50" font-size="6.96" font-weight="bold" stroke="#111" stroke-width="0.25" textLength="24.50" lengthAdjust="spacingAndGlyphs" >100 kDa</text>
<text x="660.90" y="650.00" font-size="6.96" font-weight="bold" stroke="#111" stroke-width="0.25" textLength="20.10" lengthAdjust="spacingAndGlyphs" >55 kDa</text>
</svg></div>
<script>
(function(){
var C=[[26,26,26],[77,77,77],[135,135,135],[186,186,186],[224,224,224],[255,255,255],[253,219,199],[244,165,130],[214,96,77],[178,24,43],[103,0,31]];
function cm(f){if(f<0)f=0;if(f>1)f=1;var p=f*10,i=Math.min(9,Math.floor(p)),t=p-i,a=C[i],b=C[i+1];return [a[0]+(b[0]-a[0])*t,a[1]+(b[1]-a[1])*t,a[2]+(b[2]-a[2])*t];}
function rng(s){return function(){s|=0;s=s+0x6D2B79F5|0;var t=Math.imul(s^s>>>15,1|s);t=t+Math.imul(t^t>>>7,61|t)^t;return((t^t>>>14)>>>0)/4294967296;};}
function gauss(r){var u=r()||1e-9,v=r();return Math.sqrt(-2*Math.log(u))*Math.cos(6.283185*v);}
function pl(P,t){if(t<=P[0][0])return P[0][1];for(var i=1;i<P.length;i++){if(t<=P[i][0]){var a=P[i-1],b=P[i];return a[1]+(b[1]-a[1])*(t-a[0])/(b[0]-a[0]);}}return P[P.length-1][1];}
function draw(id,fn,vmin,vmax){var cv=document.getElementById(id);if(!cv||!cv.getContext)return;var W=cv.width,H=cv.height,ctx=cv.getContext('2d'),im=ctx.createImageData(W,H),d=im.data;
 for(var y=0;y<H;y++){var row=fn(y,W,H);for(var x=0;x<W;x++){var c=cm((row[x]-vmin)/(vmax-vmin)),k=(y*W+x)*4;d[k]=c[0];d[k+1]=c[1];d[k+2]=c[2];d[k+3]=255;}}
 ctx.putImageData(im,0,0);}
function tssMaker(P){var r=rng(P.seed);return function(y,W,H){var t=(y+0.5)/H,core=pl(P.core,t),bg=pl(P.bg,t),amp=core-bg;
  var sR=pl(P.sR,t),pR=pl(P.pR,t),lob=pl(P.lob,t),sb=pl(P.sb,t),ab=pl(P.ab,t);
  var rn=1+P.rowN*gauss(r),row=[];
  var ph=r()*6.28,ph2=r()*6.28;
  for(var x=0;x<W;x++){var kb=((x+0.5)/W)*10-5,g;
   if(kb<P.pL){var dl=kb-P.pL,sa=pl(P.sha,t);g=sa*Math.exp(-dl*dl/(2*P.shs*P.shs))+(1-sa)*Math.exp(-dl*dl/(2*P.sL*P.sL));}else if(kb<=pR){g=1;}else{var dr=kb-pR;g=Math.exp(-dr*dr/(2*sR*sR));}
   var l=lob*Math.exp(-(kb-P.lmu)*(kb-P.lmu)/(2*P.ls*P.ls));
   var b=ab*Math.exp(-(kb-0.3)*(kb-0.3)/(2*sb*sb));
   var base=bg*(1+0.12*Math.sin(kb*1.3+ph))+b*(1+0.2*Math.sin(kb*2+ph2)),G=Math.min(1,g+l),v=base+(core-base)*G;
   row.push(v*rn*(1+P.pixN*gauss(r)));}
  return row;};}
function bodyMaker(P){var r=rng(P.seed);return function(y,W,H){var t=(y+0.5)/H,m=pl(P.m,t),rn=1+P.rowN*(0.6+0.8*t)*gauss(r),row=[],n=[];
  var ph=[r()*6.28,r()*6.28,r()*6.28],fr=[0.08+r()*0.1,0.2+r()*0.2,0.5+r()*0.4];
  for(var x=0;x<W+4;x++)n.push(gauss(r));
  for(var x=0;x<W;x++){var s=(n[x+2]*1.4+n[x+3]*0.6)/1.523;
   var seg=(Math.sin(x*fr[0]+ph[0])+Math.sin(x*fr[1]+ph[1])*0.8+Math.sin(x*fr[2]+ph[2])*0.6)/1.6;
   var cp=1;
   if(x<9)cp=P.up; else if(x<11)cp=P.spike; else if(x<96)cp=P.b0+(P.b1-P.b0)*((x-11)/85); else cp=P.dn;
   var pn=P.pixN*Math.min(1,P.nref/m);row.push(m*rn*cp*(1+P.segN*seg)*(1+pn*s));}
  return row;};}
var Aveh={seed:11,core:[[0,78],[0.02,72],[0.06,66],[0.13,60],[0.2,55],[0.27,49],[0.33,44],[0.42,38],[0.48,30],[0.53,20],[0.58,11],[0.64,5.5],[0.75,2.5],[1,0.7]],
 bg:[[0,12],[0.15,7],[0.3,4.2],[0.5,2.2],[0.7,1.0],[1,0.6]],pL:0.12,sL:0.08,sha:[[0,0.7],[0.1,0.62],[0.3,0.58],[0.6,0.5],[1,0.4]],shs:0.55,
 pR:[[0,0.55],[0.1,0.4],[0.3,0.3],[1,0.25]],
 sR:[[0,1.3],[0.04,1.0],[0.13,0.58],[0.25,0.44],[0.35,0.38],[0.5,0.33],[1,0.3]],lmu:-0.6,ls:0.45,
 lob:[[0,0.3],[0.05,0.15],[0.15,0],[1,0]],sb:[[0,2.2],[0.3,1.5],[0.6,0.8],[1,0.6]],ab:[[0,16],[0.3,14],[0.55,6],[0.7,1],[1,0]],rowN:0.05,pixN:0.02};
var Acaf={seed:12,core:[[0,80],[0.02,75],[0.06,69],[0.13,63],[0.2,58],[0.27,53],[0.33,48],[0.4,42],[0.46,35],[0.51,24],[0.56,13],[0.62,6],[0.75,2.8],[1,0.9]],
 bg:[[0,14],[0.15,8.5],[0.3,5.2],[0.5,2.8],[0.7,1.3],[1,0.8]],pL:0.12,sL:0.08,sha:[[0,0.75],[0.1,0.66],[0.3,0.6],[0.6,0.52],[1,0.4]],shs:0.62,
 pR:[[0,0.6],[0.1,0.45],[0.3,0.32],[1,0.25]],
 sR:[[0,1.45],[0.04,1.15],[0.13,0.68],[0.25,0.5],[0.36,0.42],[0.5,0.36],[1,0.3]],lmu:-0.6,ls:0.5,
 lob:[[0,0.35],[0.05,0.18],[0.15,0],[1,0]],sb:[[0,2.4],[0.3,1.7],[0.6,0.9],[1,0.6]],ab:[[0,19],[0.3,16],[0.55,7],[0.7,1.5],[1,0]],rowN:0.05,pixN:0.02};
draw('hA1',tssMaker(Aveh),-0.86,86);
draw('hA2',tssMaker(Acaf),-0.86,86);
var Bveh={seed:31,m:[[0,17.8],[0.03,16.8],[0.06,15.4],[0.09,13.4],[0.13,11.4],[0.2,9.6],[0.32,7.9],[0.4,6.7],[0.48,5.7],[0.58,5.0],[0.67,4.5],[0.76,3.9],[0.84,3.4],[0.9,2.9],[0.96,1.9],[1,0.8]],
 up:1.1,spike:1.12,b0:1.05,b1:0.97,dn:0.93,rowN:0.13,segN:0.06,pixN:0.22,nref:8};
var Bcaf={seed:37,m:[[0,15.8],[0.02,14.8],[0.07,13.2],[0.12,11.5],[0.2,10.0],[0.3,8.6],[0.43,6.8],[0.51,5.9],[0.6,5.1],[0.7,4.5],[0.8,3.8],[0.9,3.1],[0.96,2.3],[1,1.4]],
 up:1.1,spike:1.12,b0:1.05,b1:0.97,dn:0.92,rowN:0.13,segN:0.06,pixN:0.22,nref:8};
draw('hB1',bodyMaker(Bveh),-0.2,20.2);
draw('hB2',bodyMaker(Bcaf),-0.2,20.2);
})();

</script>
</body></html>
